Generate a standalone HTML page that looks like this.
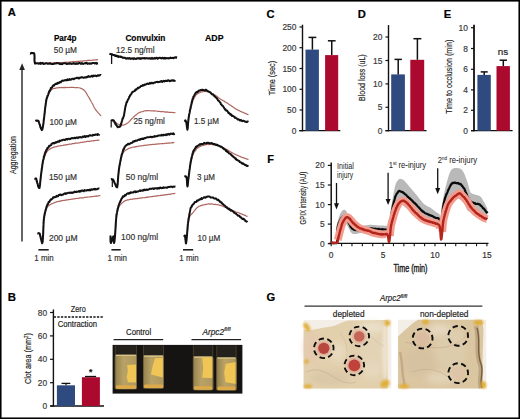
<!DOCTYPE html><html><head><meta charset="utf-8"><style>html,body{margin:0;padding:0;background:#fff;width:520px;height:419px;overflow:hidden;}svg{display:block;font-family:"Liberation Sans",sans-serif;}</style></head><body><svg width="520" height="419" viewBox="0 0 520 419" font-family="Liberation Sans, sans-serif"><defs><filter id="b05" x="-50%" y="-50%" width="200%" height="200%"><feGaussianBlur stdDeviation="0.6"/></filter><filter id="b1" x="-50%" y="-50%" width="200%" height="200%"><feGaussianBlur stdDeviation="1.2"/></filter><filter id="b2" x="-50%" y="-50%" width="200%" height="200%"><feGaussianBlur stdDeviation="3"/></filter><linearGradient id="liq" x1="0" x2="1" y1="0" y2="0"><stop offset="0" stop-color="#94804c"/><stop offset="0.4" stop-color="#b8a266"/><stop offset="1" stop-color="#ad975c"/></linearGradient></defs><rect width="520" height="419" fill="#fff"/><text x="7.70" y="16.40" font-size="11.20" text-anchor="start" font-weight="bold" fill="#000" stroke="#000" stroke-width="0.18" >A</text><text x="65.20" y="41.20" font-size="8.60" text-anchor="middle" font-weight="bold" fill="#000" stroke="#000" stroke-width="0.18" textLength="22.6" lengthAdjust="spacingAndGlyphs" >Par4p</text><text x="145.40" y="40.60" font-size="8.60" text-anchor="middle" font-weight="bold" fill="#000" stroke="#000" stroke-width="0.18" textLength="40.0" lengthAdjust="spacingAndGlyphs" >Convulxin</text><text x="214.30" y="40.60" font-size="8.60" text-anchor="middle" font-weight="bold" fill="#000" stroke="#000" stroke-width="0.18" textLength="18.5" lengthAdjust="spacingAndGlyphs" >ADP</text><text x="53.80" y="53.00" font-size="8.70" text-anchor="start" font-weight="normal" fill="#333" stroke="#333" stroke-width="0.18" textLength="23.2" lengthAdjust="spacingAndGlyphs" >50 µM</text><text x="116.00" y="53.00" font-size="8.70" text-anchor="start" font-weight="normal" fill="#333" stroke="#333" stroke-width="0.18" textLength="38.6" lengthAdjust="spacingAndGlyphs" >12.5 ng/ml</text><text x="49.40" y="125.00" font-size="8.70" text-anchor="start" font-weight="normal" fill="#333" stroke="#333" stroke-width="0.18" textLength="27.5" lengthAdjust="spacingAndGlyphs" >100 µM</text><text x="133.40" y="124.30" font-size="8.70" text-anchor="start" font-weight="normal" fill="#333" stroke="#333" stroke-width="0.18" textLength="31.5" lengthAdjust="spacingAndGlyphs" >25 ng/ml</text><text x="194.00" y="123.90" font-size="8.70" text-anchor="start" font-weight="normal" fill="#333" stroke="#333" stroke-width="0.18" textLength="24.9" lengthAdjust="spacingAndGlyphs" >1.5 µM</text><text x="48.90" y="180.30" font-size="8.70" text-anchor="start" font-weight="normal" fill="#333" stroke="#333" stroke-width="0.18" textLength="28.0" lengthAdjust="spacingAndGlyphs" >150 µM</text><text x="125.80" y="180.30" font-size="8.70" text-anchor="start" font-weight="normal" fill="#333" stroke="#333" stroke-width="0.18" textLength="32.4" lengthAdjust="spacingAndGlyphs" >50 ng/ml</text><text x="197.00" y="180.10" font-size="8.70" text-anchor="start" font-weight="normal" fill="#333" stroke="#333" stroke-width="0.18" textLength="18.0" lengthAdjust="spacingAndGlyphs" >3 µM</text><text x="48.90" y="240.80" font-size="8.70" text-anchor="start" font-weight="normal" fill="#333" stroke="#333" stroke-width="0.18" textLength="28.6" lengthAdjust="spacingAndGlyphs" >200 µM</text><text x="121.00" y="239.70" font-size="8.70" text-anchor="start" font-weight="normal" fill="#333" stroke="#333" stroke-width="0.18" textLength="37.2" lengthAdjust="spacingAndGlyphs" >100 ng/ml</text><text x="197.50" y="240.80" font-size="8.70" text-anchor="start" font-weight="normal" fill="#333" stroke="#333" stroke-width="0.18" textLength="22.9" lengthAdjust="spacingAndGlyphs" >10 µM</text><line x1="38.40" y1="249.80" x2="48.70" y2="249.80" stroke="#111" stroke-width="1.50" /><line x1="111.40" y1="249.80" x2="120.70" y2="249.80" stroke="#111" stroke-width="1.50" /><line x1="183.00" y1="249.80" x2="193.20" y2="249.80" stroke="#111" stroke-width="1.50" /><text x="34.30" y="260.90" font-size="8.50" text-anchor="start" font-weight="normal" fill="#333" stroke="#333" stroke-width="0.18" textLength="19.4" lengthAdjust="spacingAndGlyphs" >1 min</text><text x="107.60" y="260.90" font-size="8.50" text-anchor="start" font-weight="normal" fill="#333" stroke="#333" stroke-width="0.18" textLength="19.4" lengthAdjust="spacingAndGlyphs" >1 min</text><text x="179.30" y="260.90" font-size="8.50" text-anchor="start" font-weight="normal" fill="#333" stroke="#333" stroke-width="0.18" textLength="19.4" lengthAdjust="spacingAndGlyphs" >1 min</text><line x1="22.00" y1="241.60" x2="22.00" y2="68.00" stroke="#2a2a2a" stroke-width="1.45" /><path d="M22.1,63.2 L19.3,69.9 L24.9,69.9 Z" fill="#222"/><text x="15.60" y="155.00" font-size="9.60" text-anchor="middle" font-weight="normal" fill="#222" stroke="#222" stroke-width="0.15" textLength="38.0" lengthAdjust="spacingAndGlyphs" transform="rotate(-90 15.60 155.00)">Aggregation</text><path d="M30.00,53.80L30.45,53.72L31.10,53.61L31.86,53.71L32.62,53.51L33.30,53.68L33.80,53.76L34.27,54.07L34.40,54.85L34.50,55.86L34.54,56.45L34.54,56.92L34.53,57.58L34.51,58.38L34.49,59.24L34.48,59.78L34.50,60.53L34.54,61.33L34.64,62.03L34.79,62.43L35.00,62.77L35.34,63.30L35.70,63.21L36.11,63.52L36.59,63.33L37.19,63.21L37.94,63.10L38.87,63.08L40.00,63.19L40.42,63.00L40.86,63.12L41.34,63.14L41.84,63.05L42.36,63.10L42.91,62.95L43.47,62.94L44.06,62.98L44.66,63.11L45.28,63.03L45.91,62.98L46.55,63.05L47.20,63.00L47.86,62.94L48.52,63.07L49.19,63.03L49.85,62.88L50.52,62.96L51.18,62.93L51.84,63.01L52.49,62.95L53.14,62.80L53.77,62.99L54.39,62.71L55.00,62.78L55.60,62.85L56.20,62.65L56.80,62.73L57.40,62.57L58.00,62.73L58.60,62.73L59.20,62.65L59.80,62.71L60.40,62.51L61.00,62.59L61.60,62.53L62.20,62.50L62.80,62.43L63.40,62.51L64.00,62.51L64.60,62.33L65.20,62.35L65.80,62.14L66.40,62.29L67.00,62.24L67.60,62.30L68.20,62.21L68.80,62.01L69.40,62.01L70.00,62.05L70.60,61.82L71.21,61.91L71.81,61.78L72.42,61.72L73.03,61.65L73.64,61.82L74.26,61.58L74.87,61.57L75.48,61.56L76.10,61.66L76.71,61.37L77.32,61.43L77.93,61.41L78.54,61.46L79.14,61.39L79.75,61.36L80.35,61.13L80.95,61.12L81.54,61.05L82.13,61.16L82.71,61.13L83.29,60.84L83.87,60.80L84.44,60.77L85.00,60.72L85.68,60.74L86.37,60.71L87.08,60.55L87.79,60.41L88.51,60.46L89.24,60.38L89.96,60.38L90.68,60.42L91.39,60.28L92.09,60.16L92.78,60.13L93.44,60.08L94.09,59.84L94.70,60.03L95.29,59.94L95.85,59.92L96.36,59.84L96.84,59.68L97.28,59.64L97.66,59.51L98.00,59.60" fill="none" stroke="#b06660" stroke-width="1.2" stroke-linejoin="round"/><path d="M30.00,53.50L30.45,53.62L31.10,52.93L31.86,52.87L32.62,52.99L33.30,52.98L33.80,53.32L34.20,53.35L34.36,53.76L34.41,54.62L34.50,55.56L34.54,56.34L34.54,56.57L34.53,58.17L34.51,58.62L34.49,58.86L34.48,59.74L34.50,60.58L34.54,61.30L34.64,61.65L34.79,62.98L35.00,63.54L35.31,63.33L35.58,63.55L35.89,63.19L36.28,63.19L36.83,63.38L37.59,63.21L38.63,63.77L40.00,63.03L40.39,62.88L40.81,63.91L41.25,63.46L41.72,63.05L42.21,63.49L42.72,62.93L43.25,63.49L43.80,64.00L44.37,63.88L44.96,63.70L45.56,63.23L46.17,63.36L46.79,63.15L47.43,63.82L48.08,63.56L48.73,63.84L49.39,63.35L50.06,63.24L50.74,63.90L51.42,64.09L52.10,63.95L52.78,63.91L53.46,63.93L54.14,63.84L54.82,63.28L55.49,63.61L56.16,63.43L56.82,63.08L57.48,63.08L58.13,63.35L58.76,63.33L59.39,63.81L60.00,64.10L60.61,63.54L61.22,64.08L61.83,64.13L62.44,64.09L63.05,63.44L63.66,63.28L64.28,63.28L64.89,63.24L65.51,63.25L66.12,63.70L66.74,64.00L67.36,63.93L67.97,63.52L68.59,63.71L69.20,63.86L69.82,63.07L70.43,63.69L71.04,63.96L71.66,63.81L72.27,63.77L72.87,63.46L73.48,63.12L74.09,63.78L74.69,63.27L75.29,63.78L75.89,63.96L76.49,63.32L77.08,63.32L77.67,63.91L78.26,63.66L78.84,63.05L79.42,62.99L80.00,63.02L80.64,63.84L81.30,63.73L81.96,63.00L82.64,63.74L83.32,63.90L84.02,63.54L84.71,63.20L85.41,63.42L86.11,62.95L86.81,62.82L87.51,63.87L88.21,63.51L88.90,63.37L89.58,63.82L90.25,63.26L90.91,63.74L91.56,63.69L92.19,63.01L92.81,63.05L93.41,63.09L93.99,63.03L94.54,63.41L95.08,63.05L95.58,63.22L96.06,62.90L96.52,63.76L96.94,63.14L97.33,63.26L97.68,63.39L98.00,63.30" fill="none" stroke="#111" stroke-width="2.0" stroke-linejoin="round"/><path d="M35.50,121.30L36.07,121.38L36.90,121.17L37.75,121.31L38.40,121.30L38.76,121.57L38.88,122.02L39.20,122.86L39.37,123.44L39.58,123.96L39.81,124.60L40.06,125.60L40.32,126.21L40.59,127.08L40.86,127.89L41.12,128.48L41.37,128.93L41.60,129.35L41.80,129.52L42.01,129.59L42.18,129.26L42.34,129.15L42.48,128.65L42.61,128.10L42.75,127.51L42.91,126.50L43.09,125.38L43.30,124.08L43.36,123.73L43.42,123.16L43.49,122.74L43.56,122.22L43.63,121.69L43.70,121.20L43.77,120.55L43.85,119.98L43.93,119.35L44.00,118.85L44.08,118.13L44.16,117.52L44.25,116.86L44.33,115.97L44.41,115.37L44.49,114.78L44.58,114.05L44.66,113.13L44.74,112.42L44.83,111.82L44.91,111.01L45.00,110.37L45.08,109.63L45.16,109.14L45.24,108.52L45.33,107.91L45.41,107.06L45.49,106.62L45.56,106.01L45.64,105.29L45.72,104.98L45.79,104.49L45.86,103.78L45.93,103.55L46.00,102.97L46.19,101.91L46.37,101.14L46.55,100.31L46.72,99.44L46.88,98.94L47.04,98.47L47.20,97.98L47.36,97.54L47.52,97.19L47.67,96.93L47.84,96.31L48.00,96.02L48.25,95.29L48.49,94.51L48.73,93.99L48.97,93.51L49.21,92.93L49.46,92.30L49.73,92.10L50.00,91.59L50.46,90.99L50.94,90.16L51.44,89.71L51.96,89.22L52.50,89.08L53.04,88.66L53.59,88.44L54.17,88.40L54.80,88.44L55.50,88.30L56.02,88.03L56.52,87.89L57.03,88.03L57.61,87.83L58.27,87.79L59.06,87.53L60.00,87.47L60.48,87.64L61.00,87.54L61.56,87.42L62.16,87.66L62.79,87.56L63.44,87.60L64.10,87.38L64.78,87.60L65.47,87.36L66.15,87.60L66.84,87.47L67.51,87.44L68.17,87.50L68.81,87.62L69.42,87.42L70.00,87.39L70.69,87.52L71.38,87.44L72.06,87.41L72.74,87.44L73.40,87.42L74.06,87.48L74.69,87.54L75.31,87.56L75.90,87.72L76.47,87.61L77.01,87.71L77.52,87.66L78.00,87.75L78.91,87.77L79.67,87.95L80.31,88.02L80.89,88.41L81.44,88.56L82.00,88.71L82.56,89.08L83.07,89.54L83.56,89.64L84.04,90.27L84.51,90.62L85.00,91.20L85.33,91.72L85.65,92.03L85.96,92.54L86.28,93.10L86.60,93.73L86.93,94.10L87.27,94.84L87.62,95.42L88.00,96.04L88.28,96.44L88.56,96.91L88.86,97.34L89.17,97.89L89.48,98.42L89.80,99.18L90.12,99.60L90.45,100.14L90.77,100.68L91.08,101.47L91.40,102.03L91.70,102.52L92.00,102.93L92.31,103.49L92.60,104.06L92.89,104.67L93.16,105.13L93.44,105.77L93.71,106.27L93.99,107.02L94.28,107.57L94.58,107.99L94.90,108.44L95.24,109.20L95.60,109.54L95.97,110.07L96.39,110.51L96.83,111.19L97.31,111.79L97.79,112.37L98.28,112.84L98.77,113.49L99.23,113.87L99.68,114.44L100.09,114.84L100.45,115.34L100.76,115.58L101.00,116.00" fill="none" stroke="#b06660" stroke-width="1.2" stroke-linejoin="round"/><path d="M35.50,121.00L36.07,120.43L36.90,120.66L37.75,120.57L38.40,121.09L38.76,121.38L38.88,122.19L39.20,123.17L39.37,123.72L39.58,124.52L39.81,124.70L40.06,125.42L40.32,126.96L40.59,126.84L40.86,128.23L41.12,128.80L41.37,128.67L41.60,129.91L41.80,130.13L42.01,129.84L42.18,129.84L42.34,129.67L42.48,128.51L42.61,128.36L42.75,127.57L42.91,126.97L43.09,125.75L43.30,124.36L43.36,123.69L43.42,123.59L43.49,122.89L43.55,122.40L43.62,121.36L43.69,120.59L43.76,120.12L43.83,119.77L43.91,118.86L43.98,119.02L44.06,118.06L44.14,117.46L44.22,116.77L44.30,116.13L44.38,115.22L44.46,113.97L44.54,114.13L44.62,113.35L44.70,112.36L44.78,111.68L44.86,111.10L44.95,109.74L45.03,109.78L45.11,108.55L45.19,107.68L45.27,107.22L45.35,107.08L45.42,105.87L45.50,105.84L45.58,105.51L45.65,104.41L45.72,103.75L45.80,103.34L45.87,103.08L45.93,102.71L46.00,102.13L46.19,101.04L46.38,99.47L46.55,98.75L46.73,98.19L46.89,98.16L47.06,97.19L47.22,97.05L47.37,96.06L47.53,95.74L47.69,95.59L47.84,95.64L48.00,95.21L48.23,94.50L48.45,93.45L48.67,93.10L48.89,92.49L49.10,91.97L49.33,91.08L49.56,91.43L49.80,90.17L50.14,90.37L50.49,89.69L50.85,88.08L51.22,87.99L51.61,87.85L52.00,87.51L52.48,86.41L52.97,85.75L53.48,85.27L54.02,85.68L54.60,84.48L55.10,84.57L55.61,83.78L56.15,83.91L56.72,84.10L57.33,82.90L58.00,83.35L58.52,82.77L59.04,82.94L59.58,82.49L60.15,81.72L60.76,82.20L61.43,81.49L62.17,80.73L63.00,80.45L63.48,80.86L63.99,80.68L64.53,80.37L65.09,80.06L65.67,80.14L66.26,79.97L66.88,80.41L67.50,79.35L68.14,80.04L68.78,80.00L69.42,79.08L70.07,79.84L70.72,79.48L71.36,79.56L72.00,78.77L72.60,78.75L73.20,78.67L73.81,79.23L74.43,78.68L75.05,78.33L75.68,78.31L76.31,78.05L76.94,77.71L77.57,77.68L78.21,78.39L78.84,77.70L79.48,78.33L80.11,77.49L80.74,77.42L81.37,77.60L82.00,77.16L82.63,77.27L83.26,77.83L83.89,77.66L84.52,77.49L85.16,77.21L85.79,77.44L86.43,77.38L87.06,76.87L87.69,76.97L88.32,76.15L88.95,76.83L89.57,76.44L90.19,76.69L90.80,76.50L91.40,76.03L92.00,75.70L92.65,76.60L93.32,75.64L94.01,75.95L94.71,75.74L95.41,75.61L96.10,76.03L96.79,76.23L97.46,75.37L98.10,75.75L98.70,75.30L99.27,75.53L99.79,75.30L100.26,75.01L100.66,74.96L101.00,75.30" fill="none" stroke="#111" stroke-width="2.0" stroke-linejoin="round"/><path d="M34.50,178.60L35.20,178.59L36.00,179.12L36.26,179.37L36.43,179.83L36.80,181.12L36.95,181.61L37.13,182.06L37.32,182.70L37.54,183.53L37.76,184.34L37.99,185.25L38.23,185.95L38.46,186.69L38.69,187.26L38.91,187.74L39.11,188.00L39.30,187.87L39.40,187.59L39.50,187.32L39.60,187.01L39.69,186.54L39.77,186.05L39.86,185.42L39.94,184.89L40.02,184.45L40.10,183.52L40.18,182.92L40.26,182.22L40.34,181.53L40.41,180.57L40.49,179.81L40.57,179.03L40.65,178.31L40.74,177.58L40.82,177.00L40.91,176.27L41.00,175.61L41.08,174.76L41.17,174.15L41.25,173.73L41.34,173.16L41.42,172.39L41.51,171.77L41.60,170.94L41.68,170.39L41.77,169.89L41.86,169.20L41.95,168.56L42.04,167.94L42.13,167.08L42.22,166.40L42.32,165.79L42.41,165.29L42.51,164.74L42.60,164.24L42.70,163.61L42.80,163.05L42.90,162.57L43.00,161.99L43.18,161.23L43.36,160.34L43.54,159.87L43.73,159.05L43.93,158.65L44.12,157.98L44.32,157.32L44.52,156.75L44.71,156.28L44.91,155.91L45.11,155.46L45.31,154.83L45.50,154.37L45.85,153.74L46.20,153.07L46.55,152.41L46.89,151.81L47.25,151.43L47.62,150.79L48.00,150.44L48.46,150.02L48.93,149.77L49.41,149.34L49.91,149.10L50.44,148.69L51.00,148.32L51.48,148.08L51.95,148.07L52.43,147.78L52.95,147.46L53.54,147.17L54.21,147.11L55.00,146.95L55.46,146.76L55.92,146.60L56.39,146.61L56.87,146.58L57.38,146.26L57.91,146.09L58.48,146.07L59.09,145.98L59.74,145.93L60.46,145.66L61.23,145.70L62.08,145.53L63.00,145.30L63.46,145.13L63.93,145.28L64.42,145.00L64.94,145.07L65.46,144.80L66.00,144.71L66.56,144.78L67.13,144.54L67.71,144.65L68.31,144.41L68.91,144.22L69.53,144.13L70.15,144.09L70.79,144.06L71.43,144.05L72.07,143.70L72.73,143.67L73.38,143.52L74.04,143.64L74.71,143.29L75.37,143.16L76.04,143.06L76.70,143.06L77.37,143.11L78.03,143.01L78.69,142.86L79.35,142.84L80.00,142.73L80.58,142.46L81.18,142.34L81.80,142.47L82.44,142.33L83.10,142.02L83.77,142.12L84.45,141.94L85.14,141.84L85.83,141.74L86.54,141.59L87.24,141.45L87.95,141.44L88.66,141.36L89.37,141.45L90.07,141.11L90.76,141.27L91.45,140.95L92.13,140.91L92.79,140.96L93.44,140.88L94.07,140.68L94.69,140.48L95.28,140.53L95.86,140.43L96.41,140.52L96.93,140.23L97.42,140.22L97.89,140.32L98.32,140.00L98.72,140.06L99.08,140.14L99.40,140.00" fill="none" stroke="#b06660" stroke-width="1.2" stroke-linejoin="round"/><path d="M34.50,178.40L35.20,178.76L36.00,178.29L36.26,178.71L36.43,179.36L36.80,181.46L36.95,181.21L37.13,182.39L37.32,183.32L37.54,183.54L37.76,184.34L37.99,185.95L38.23,186.39L38.46,186.71L38.69,187.78L38.91,187.73L39.11,187.85L39.30,187.45L39.40,188.10L39.49,188.00L39.58,187.35L39.67,187.27L39.75,185.79L39.84,185.48L39.91,185.16L39.99,185.05L40.07,184.38L40.14,183.05L40.22,182.17L40.29,181.61L40.37,180.92L40.44,180.62L40.52,179.02L40.59,178.93L40.67,178.09L40.75,177.44L40.83,176.66L40.91,175.78L41.00,174.81L41.08,174.21L41.16,173.64L41.25,173.49L41.33,172.08L41.41,171.57L41.50,171.53L41.59,170.33L41.67,169.47L41.76,168.78L41.85,168.69L41.94,167.79L42.03,167.86L42.11,167.11L42.20,166.59L42.29,165.17L42.38,164.36L42.47,163.77L42.56,163.63L42.65,163.29L42.74,162.45L42.83,161.69L42.91,161.39L43.00,161.13L43.17,160.33L43.33,159.62L43.50,158.99L43.66,158.10L43.82,156.87L43.99,157.06L44.15,155.88L44.32,155.64L44.49,154.90L44.66,154.79L44.83,153.68L45.00,153.22L45.26,152.47L45.52,151.67L45.78,151.82L46.05,150.87L46.32,150.01L46.60,149.53L46.89,149.66L47.20,148.61L47.56,147.75L47.94,147.87L48.32,147.23L48.72,147.15L49.13,145.75L49.56,145.76L50.00,145.75L50.53,145.34L51.08,145.03L51.64,143.69L52.23,143.62L52.85,143.10L53.50,142.86L54.09,143.46L54.70,142.78L55.33,142.93L55.98,142.10L56.65,142.43L57.32,141.76L58.00,141.34L58.57,141.72L59.10,141.74L59.63,140.64L60.18,141.02L60.76,140.88L61.41,140.26L62.15,140.25L63.00,139.81L63.47,139.77L63.97,139.73L64.49,140.00L65.03,139.95L65.60,139.34L66.18,139.02L66.78,139.26L67.39,139.53L68.02,138.87L68.67,138.89L69.32,138.66L69.98,139.19L70.65,138.80L71.33,138.15L72.01,138.08L72.70,138.28L73.25,138.36L73.82,138.37L74.38,137.67L74.96,137.66L75.54,138.16L76.13,137.75L76.73,137.52L77.33,137.45L77.94,138.07L78.56,137.27L79.18,137.46L79.80,137.14L80.44,137.11L81.07,137.50L81.72,137.55L82.36,136.76L83.02,136.47L83.67,136.96L84.33,136.28L85.00,135.96L85.57,136.85L86.17,136.23L86.80,136.57L87.45,136.01L88.11,136.43L88.79,135.86L89.48,135.42L90.18,135.14L90.88,135.62L91.58,135.61L92.28,135.79L92.97,134.78L93.65,135.26L94.31,134.87L94.96,134.92L95.59,134.42L96.19,134.48L96.76,134.65L97.30,135.00L97.81,134.02L98.27,134.37L98.70,134.65L99.07,134.77L99.40,134.20" fill="none" stroke="#111" stroke-width="2.0" stroke-linejoin="round"/><path d="M37.40,233.60L38.00,233.44L38.83,233.35L39.50,233.73L39.79,234.04L39.92,234.39L40.20,235.37L40.32,236.10L40.47,236.55L40.63,237.42L40.81,238.13L41.00,239.02L41.19,239.65L41.38,240.64L41.57,241.20L41.75,241.88L41.92,242.50L42.07,242.80L42.20,242.70L42.31,242.63L42.40,242.48L42.48,242.20L42.56,241.75L42.63,241.16L42.69,240.60L42.75,240.08L42.80,239.40L42.86,238.36L42.91,237.69L42.97,236.88L43.03,235.77L43.10,235.10L43.13,234.41L43.16,234.05L43.19,233.51L43.22,232.97L43.25,232.30L43.27,231.73L43.30,231.16L43.32,230.48L43.35,229.90L43.37,229.18L43.40,228.51L43.42,227.71L43.45,227.20L43.48,226.48L43.51,225.73L43.54,225.21L43.57,224.54L43.61,223.77L43.64,223.03L43.68,222.48L43.73,221.74L43.77,221.13L43.82,220.63L43.88,219.95L43.94,219.51L44.00,219.00L44.11,218.09L44.22,217.51L44.35,216.60L44.48,216.06L44.62,215.36L44.76,214.59L44.92,213.78L45.07,213.26L45.23,212.59L45.39,212.15L45.55,211.32L45.72,210.98L45.88,210.49L46.04,209.90L46.20,209.45L46.35,208.82L46.50,208.64L46.89,207.56L47.26,207.06L47.62,206.62L48.01,206.08L48.46,205.97L49.00,205.63L49.46,205.03L49.96,204.78L50.49,204.58L51.06,204.08L51.65,203.99L52.27,203.50L52.92,203.38L53.60,202.89L54.09,202.81L54.57,202.75L55.05,202.36L55.53,202.20L56.03,202.11L56.56,201.89L57.13,201.64L57.75,201.52L58.43,201.35L59.17,201.41L60.00,201.15L60.47,201.12L60.97,200.81L61.49,200.89L62.03,200.59L62.60,200.61L63.18,200.54L63.78,200.35L64.40,200.40L65.02,200.20L65.66,200.10L66.30,200.09L66.95,199.75L67.61,199.91L68.26,199.70L68.92,199.53L69.57,199.55L70.21,199.29L70.85,199.42L71.48,199.20L72.10,199.05L72.70,199.08L73.32,198.89L73.93,198.73L74.54,198.82L75.14,198.53L75.73,198.69L76.32,198.44L76.91,198.49L77.50,198.52L78.09,198.33L78.68,198.29L79.28,198.11L79.88,197.95L80.48,197.89L81.09,197.86L81.72,197.92L82.35,197.80L82.99,197.74L83.65,197.78L84.32,197.47L85.00,197.42L85.57,197.48L86.17,197.21L86.80,197.13L87.45,197.15L88.13,197.00L88.82,196.99L89.52,196.86L90.23,196.88L90.95,196.79L91.68,196.59L92.40,196.63L93.11,196.49L93.82,196.30L94.52,196.46L95.20,196.17L95.86,196.06L96.50,195.96L97.12,196.05L97.70,196.04L98.26,195.95L98.77,195.77L99.25,195.67L99.68,195.54L100.07,195.68L100.40,195.60" fill="none" stroke="#b06660" stroke-width="1.2" stroke-linejoin="round"/><path d="M37.40,233.40L38.00,233.39L38.83,233.08L39.50,233.56L39.79,233.68L39.92,234.80L40.20,235.76L40.32,235.71L40.47,237.06L40.63,236.86L40.81,238.21L41.00,238.92L41.19,239.59L41.38,240.21L41.57,241.75L41.75,241.55L41.92,242.64L42.07,243.39L42.20,242.61L42.31,242.59L42.40,242.83L42.48,242.40L42.56,242.13L42.63,241.81L42.69,240.50L42.75,239.97L42.80,239.22L42.86,238.14L42.91,238.21L42.97,237.19L43.03,236.19L43.10,234.46L43.13,234.92L43.16,234.32L43.19,233.50L43.21,233.27L43.23,232.39L43.25,231.56L43.28,230.84L43.30,230.36L43.32,229.53L43.34,229.22L43.36,229.02L43.38,228.31L43.40,227.81L43.42,227.00L43.44,225.84L43.47,225.48L43.49,224.68L43.52,224.40L43.56,223.45L43.59,222.51L43.63,222.28L43.67,222.00L43.71,220.55L43.76,220.67L43.81,219.13L43.87,218.82L43.93,218.24L44.00,218.27L44.10,217.76L44.21,216.83L44.32,215.67L44.44,215.58L44.56,214.30L44.69,213.53L44.83,213.61L44.97,212.66L45.11,212.09L45.26,211.44L45.42,211.18L45.58,210.03L45.74,209.85L45.91,209.13L46.08,208.75L46.26,207.75L46.44,207.54L46.62,206.86L46.81,206.07L47.00,205.48L47.31,205.22L47.63,203.95L47.98,204.23L48.33,202.78L48.70,202.08L49.08,201.62L49.46,202.01L49.84,200.89L50.23,200.20L50.61,199.65L50.98,199.25L51.35,199.58L51.70,199.15L52.24,198.70L52.74,198.33L53.22,197.26L53.71,197.56L54.21,197.08L54.74,197.35L55.34,197.12L56.00,196.93L56.48,195.83L56.99,196.52L57.51,196.38L58.06,196.22L58.62,195.11L59.21,195.03L59.80,194.75L60.42,194.48L61.05,195.20L61.69,194.98L62.34,194.62L63.00,194.66L63.54,194.31L64.09,193.80L64.66,193.47L65.23,193.34L65.81,193.94L66.41,193.21L67.01,193.22L67.62,193.21L68.23,192.65L68.85,192.80L69.48,192.71L70.10,193.07L70.73,192.58L71.37,192.41L72.00,193.01L72.60,192.40L73.20,192.68L73.81,192.33L74.43,191.59L75.05,191.91L75.68,191.84L76.31,192.12L76.94,191.56L77.57,191.86L78.21,191.58L78.84,191.14L79.48,191.76L80.11,190.82L80.74,191.53L81.37,190.73L82.00,190.45L82.63,190.58L83.27,191.11L83.91,191.25L84.56,190.09L85.21,190.53L85.86,190.44L86.51,190.69L87.16,189.92L87.80,190.17L88.44,189.92L89.07,190.37L89.68,189.66L90.29,190.32L90.87,189.52L91.45,189.36L92.00,189.82L92.73,189.50L93.47,188.97L94.21,189.45L94.93,188.74L95.64,189.42L96.33,189.23L96.97,189.24L97.58,188.99L98.13,188.61L98.62,188.60L99.05,188.53L99.40,188.60" fill="none" stroke="#111" stroke-width="2.0" stroke-linejoin="round"/><path d="M109.50,54.00L109.94,54.17L110.56,54.00L111.28,54.35L112.00,54.26L112.54,54.50L113.07,54.74L113.63,55.19L114.26,55.33L115.00,55.56L115.51,55.88L116.05,55.86L116.61,56.11L117.21,56.31L117.84,56.56L118.51,56.74L119.23,56.88L120.00,56.95L120.53,57.06L121.07,57.12L121.63,57.45L122.20,57.51L122.78,57.65L123.39,57.59L124.03,57.78L124.69,57.98L125.39,58.01L126.12,57.96L126.89,58.13L127.70,58.32L128.20,58.15L128.71,58.16L129.22,58.21L129.74,58.34L130.27,58.39L130.81,58.19L131.36,58.19L131.92,58.22L132.49,58.24L133.08,58.29L133.68,58.18L134.30,58.22L134.94,58.17L135.60,58.40L136.28,58.31L136.97,58.11L137.69,58.36L138.44,58.09L139.21,58.17L140.00,58.35L140.50,58.29L141.01,58.26L141.54,58.17L142.08,58.10L142.64,58.23L143.21,58.06L143.79,58.09L144.38,58.14L144.98,58.03L145.59,58.14L146.21,58.25L146.83,58.22L147.46,58.15L148.10,58.19L148.74,58.13L149.38,58.03L150.03,58.17L150.68,58.10L151.33,58.20L151.98,58.24L152.62,58.09L153.27,58.13L153.91,58.17L154.55,58.07L155.19,58.00L155.82,58.14L156.44,58.18L157.06,58.14L157.67,58.10L158.27,58.14L158.85,58.08L159.43,58.05L160.00,57.99L160.67,57.93L161.35,58.01L162.04,57.83L162.73,57.91L163.44,57.99L164.15,57.95L164.86,57.90L165.57,57.77L166.28,57.79L166.99,57.78L167.69,57.80L168.39,57.71L169.07,57.77L169.75,57.82L170.41,57.57L171.06,57.68L171.69,57.69L172.31,57.55L172.90,57.56L173.47,57.68L174.02,57.38L174.54,57.51L175.03,57.37L175.49,57.54L175.92,57.57L176.32,57.43L176.68,57.29L177.00,57.40" fill="none" stroke="#b06660" stroke-width="1.2" stroke-linejoin="round"/><path d="M109.50,53.80L109.94,53.94L110.56,53.97L111.28,54.27L112.00,54.21L112.54,54.54L113.07,54.97L113.63,54.88L114.26,55.03L115.00,55.89L115.51,55.25L116.05,55.96L116.61,55.82L117.21,56.42L117.84,55.91L118.51,57.05L119.23,56.55L120.00,56.41L120.49,56.77L120.99,57.03L121.50,56.74L122.02,57.32L122.56,57.45L123.11,57.89L123.68,57.64L124.28,57.67L124.90,57.74L125.55,58.42L126.24,58.73L126.95,58.36L127.70,58.09L128.20,58.77L128.71,58.35L129.22,58.18L129.74,58.11L130.27,58.84L130.81,58.89L131.36,58.70L131.92,58.53L132.49,58.63L133.08,58.26L133.68,59.07L134.30,58.39L134.94,58.70L135.60,58.89L136.28,58.88L136.97,58.49L137.69,58.29L138.44,58.57L139.21,58.09L140.00,58.87L140.50,58.34L141.01,58.88L141.54,58.23L142.08,58.35L142.64,58.21L143.21,58.39L143.79,58.12L144.38,57.91L144.98,58.70L145.59,58.20L146.21,58.16L146.83,58.21L147.46,58.40L148.10,58.33L148.74,58.55L149.38,58.57L150.03,58.23L150.68,58.84L151.33,58.75L151.98,57.86L152.62,58.70L153.27,58.78L153.91,58.63L154.55,57.91L155.19,58.66L155.82,58.43L156.44,57.74L157.06,57.72L157.67,58.75L158.27,58.41L158.85,57.95L159.43,57.77L160.00,57.81L160.67,57.89L161.35,58.47L162.04,57.98L162.73,57.75L163.44,58.56L164.15,58.42L164.86,57.71L165.57,58.49L166.28,58.16L166.99,58.33L167.69,58.18L168.39,58.41L169.07,58.27L169.75,58.30L170.41,57.58L171.06,58.10L171.69,57.90L172.31,58.12L172.90,57.76L173.47,58.23L174.02,57.86L174.54,57.52L175.03,57.47L175.49,57.35L175.92,57.73L176.32,57.24L176.68,57.67L177.00,57.70" fill="none" stroke="#111" stroke-width="2.0" stroke-linejoin="round"/><path d="M111.20,121.20L111.65,120.86L112.30,120.66L113.00,120.60L113.53,120.85L114.09,121.36L114.69,121.59L115.30,122.30L115.79,122.55L116.29,122.96L116.81,123.38L117.37,123.79L118.00,123.96L118.60,124.21L119.27,124.59L119.98,124.52L120.69,124.85L121.38,124.97L122.00,124.86L122.65,125.06L123.24,125.05L123.80,125.03L124.38,124.69L125.00,124.64L125.48,124.28L125.99,124.01L126.51,123.83L127.04,123.24L127.57,123.08L128.09,122.66L128.60,122.15L129.03,121.91L129.44,121.34L129.85,120.92L130.26,120.46L130.67,120.04L131.09,119.39L131.53,118.96L132.00,118.48L132.44,118.08L132.91,117.71L133.39,117.09L133.88,116.79L134.38,116.21L134.88,115.79L135.37,115.29L135.84,114.97L136.30,114.74L136.84,114.23L137.34,113.89L137.82,113.41L138.30,113.09L138.81,112.79L139.37,112.60L140.00,112.34L140.56,112.18L141.18,111.75L141.84,111.76L142.52,111.62L143.22,111.34L143.91,111.03L144.58,110.96L145.21,110.75L145.80,110.71L146.46,110.83L147.03,110.68L147.55,110.68L148.07,110.71L148.62,110.77L149.25,110.70L150.00,110.74L150.50,110.76L151.02,110.80L151.57,110.80L152.15,110.87L152.75,110.76L153.37,110.94L154.00,110.93L154.65,111.07L155.30,110.92L155.97,111.00L156.63,111.01L157.30,111.28L157.88,111.37L158.46,111.35L159.06,111.31L159.66,111.51L160.28,111.55L160.89,111.55L161.52,111.51L162.15,111.59L162.78,111.69L163.42,111.72L164.06,111.81L164.71,111.93L165.35,112.08L166.00,111.87L166.63,112.07L167.29,111.97L167.99,112.04L168.70,112.31L169.43,112.29L170.16,112.45L170.89,112.36L171.60,112.28L172.28,112.44L172.94,112.55L173.55,112.70L174.11,112.75L174.61,112.64L175.04,112.65L175.40,112.70" fill="none" stroke="#b06660" stroke-width="1.2" stroke-linejoin="round"/><path d="M111.20,121.00L111.66,120.25L112.32,120.47L113.00,119.98L113.37,120.22L113.75,120.54L114.13,121.12L114.55,122.52L115.00,122.58L115.31,123.98L115.65,123.57L116.00,125.03L116.37,124.82L116.74,125.28L117.10,126.56L117.46,126.45L117.80,127.26L118.46,126.87L119.11,126.63L119.72,127.02L120.30,126.23L120.52,125.99L120.72,125.35L120.92,124.06L121.11,124.02L121.30,123.44L121.48,122.48L121.66,122.32L121.84,120.91L122.02,121.07L122.20,120.24L122.45,118.80L122.69,118.27L122.93,118.49L123.17,118.18L123.41,116.80L123.65,116.33L123.90,115.85L124.01,114.76L124.11,115.01L124.21,114.03L124.31,112.96L124.42,112.67L124.52,112.24L124.62,111.41L124.73,110.98L124.83,109.70L124.94,109.72L125.05,108.55L125.17,108.17L125.29,107.49L125.41,106.62L125.53,105.98L125.66,105.84L125.80,105.49L126.02,104.55L126.26,103.60L126.51,102.62L126.77,101.73L127.03,102.13L127.30,101.25L127.57,100.83L127.84,99.75L128.10,99.53L128.36,99.43L128.60,98.76L128.91,97.85L129.20,96.91L129.49,96.46L129.76,96.41L130.04,95.33L130.34,95.17L130.65,94.59L131.00,94.44L131.43,93.81L131.89,92.75L132.38,91.98L132.88,91.82L133.38,91.56L133.90,91.32L134.40,91.15L134.88,90.81L135.35,89.47L135.81,89.95L136.29,89.54L136.80,89.21L137.36,88.49L138.00,87.75L138.45,88.12L138.93,87.79L139.44,87.36L139.97,87.32L140.52,86.41L141.08,85.83L141.64,86.06L142.21,86.06L142.78,85.14L143.35,85.50L143.90,85.47L144.50,84.48L145.09,84.68L145.68,84.57L146.27,84.16L146.86,83.71L147.46,83.60L148.08,84.00L148.70,83.90L149.34,83.40L150.00,82.85L150.56,83.52L151.13,83.38L151.71,82.69L152.29,82.98L152.89,83.24L153.49,83.14L154.10,82.66L154.72,82.53L155.35,82.57L155.99,82.04L156.64,81.95L157.30,81.85L157.88,82.34L158.46,81.88L159.06,82.01L159.66,81.74L160.28,81.78L160.89,81.28L161.52,81.07L162.15,82.03L162.78,81.26L163.42,80.88L164.06,81.37L164.71,81.46L165.35,80.69L166.00,81.11L166.63,80.77L167.29,80.90L167.99,80.29L168.70,80.25L169.43,81.24L170.16,81.05L170.89,80.58L171.60,80.63L172.28,80.24L172.94,80.77L173.55,80.34L174.11,80.88L174.61,80.65L175.04,80.68L175.40,80.30" fill="none" stroke="#111" stroke-width="2.0" stroke-linejoin="round"/><path d="M111.00,179.60L111.57,179.75L112.36,179.58L113.00,179.66L113.23,179.96L113.60,180.90L113.80,181.26L114.06,181.76L114.35,182.50L114.67,183.24L115.01,183.80L115.36,184.62L115.70,185.25L116.03,185.58L116.33,186.24L116.59,186.55L116.80,186.69L117.15,187.10L117.31,186.56L117.41,185.71L117.60,184.04L117.65,183.75L117.70,183.24L117.74,182.69L117.79,182.20L117.84,181.58L117.89,181.26L117.95,180.68L118.00,179.84L118.05,179.15L118.11,178.56L118.16,177.93L118.22,177.42L118.28,176.74L118.34,176.03L118.41,175.10L118.47,174.63L118.54,173.93L118.61,173.23L118.68,172.66L118.76,171.73L118.84,171.11L118.92,170.68L119.00,170.13L119.09,169.43L119.19,168.69L119.29,168.14L119.39,167.55L119.50,166.71L119.61,166.12L119.72,165.45L119.83,164.76L119.95,164.22L120.07,163.49L120.19,162.88L120.31,162.23L120.43,161.77L120.55,160.97L120.67,160.60L120.80,159.87L120.92,159.27L121.04,159.01L121.16,158.29L121.27,158.02L121.39,157.54L121.50,157.12L121.77,155.95L122.03,155.23L122.28,154.43L122.54,154.07L122.79,153.52L123.05,152.99L123.32,152.51L123.60,152.06L123.90,151.80L124.37,151.14L124.87,150.75L125.38,150.26L125.91,149.99L126.45,149.66L127.00,149.56L127.51,149.21L127.99,148.82L128.47,148.77L129.02,148.34L129.68,148.13L130.50,147.80L130.98,147.70L131.49,147.73L132.04,147.44L132.62,147.26L133.23,147.22L133.86,147.03L134.52,147.07L135.19,146.70L135.88,146.82L136.58,146.42L137.29,146.54L138.00,146.35L138.54,146.12L139.09,146.12L139.65,145.97L140.21,145.88L140.78,145.78L141.36,145.75L141.95,145.85L142.55,145.77L143.16,145.67L143.78,145.35L144.40,145.33L145.04,145.43L145.69,145.10L146.35,145.22L147.02,145.02L147.70,145.14L148.25,144.79L148.82,144.97L149.38,144.77L149.96,144.65L150.54,144.54L151.13,144.73L151.73,144.58L152.33,144.42L152.94,144.43L153.56,144.52L154.18,144.25L154.80,144.30L155.44,144.11L156.07,144.06L156.72,144.18L157.36,144.10L158.02,143.89L158.67,143.79L159.33,143.74L160.00,143.83L160.57,143.75L161.17,143.63L161.80,143.55L162.45,143.62L163.11,143.59L163.79,143.57L164.48,143.44L165.18,143.27L165.88,143.17L166.58,143.31L167.28,143.15L167.97,143.19L168.65,142.94L169.31,143.11L169.96,142.91L170.59,143.01L171.19,142.97L171.76,142.81L172.30,142.63L172.81,142.85L173.27,142.69L173.70,142.77L174.07,142.56L174.40,142.60" fill="none" stroke="#b06660" stroke-width="1.2" stroke-linejoin="round"/><path d="M111.00,179.40L111.57,179.06L112.36,179.80L113.00,179.45L113.23,179.57L113.60,180.86L113.80,181.51L114.06,181.39L114.35,182.57L114.67,183.16L115.01,183.94L115.36,184.20L115.70,185.52L116.03,186.24L116.33,186.80L116.59,186.58L116.80,187.23L117.10,187.04L117.26,187.30L117.35,186.01L117.44,185.92L117.60,184.50L117.64,183.62L117.69,183.22L117.73,182.79L117.77,182.32L117.82,181.25L117.86,181.75L117.90,180.38L117.95,179.75L117.99,179.06L118.04,178.61L118.09,178.60L118.14,177.09L118.19,176.50L118.24,176.50L118.30,175.27L118.35,174.40L118.41,174.36L118.47,173.65L118.54,172.92L118.61,172.44L118.68,171.11L118.75,171.30L118.83,170.49L118.91,169.12L119.00,168.59L119.09,168.40L119.18,167.81L119.28,166.95L119.38,166.15L119.48,165.83L119.59,164.89L119.70,164.75L119.81,164.40L119.93,162.97L120.05,162.79L120.17,162.33L120.29,161.05L120.41,161.13L120.54,160.62L120.66,159.39L120.79,158.81L120.91,158.67L121.04,157.73L121.16,157.01L121.29,157.05L121.41,156.32L121.53,155.31L121.65,154.70L121.77,154.32L121.89,153.97L122.00,154.13L122.26,152.99L122.53,152.26L122.79,151.39L123.06,150.74L123.32,149.25L123.58,149.21L123.83,149.19L124.09,148.71L124.33,147.53L124.57,147.31L124.80,147.15L125.36,146.03L125.86,145.75L126.37,144.92L127.00,144.93L127.46,144.68L127.91,143.85L128.41,143.67L128.97,144.26L129.66,143.70L130.50,143.48L130.95,142.94L131.44,142.91L131.97,142.76L132.52,142.52L133.11,141.33L133.71,141.74L134.33,141.07L134.97,141.27L135.61,140.57L136.26,140.62L136.91,140.80L137.56,140.24L138.20,139.63L138.75,139.75L139.31,139.49L139.87,139.91L140.43,139.03L141.00,138.90L141.57,139.14L142.15,138.42L142.73,138.81L143.32,139.07L143.91,138.46L144.52,138.06L145.13,138.15L145.74,138.09L146.37,137.54L147.00,137.39L147.57,137.28L148.15,137.34L148.75,137.36L149.35,137.11L149.97,136.95L150.59,136.67L151.21,137.06L151.84,137.28L152.47,136.92L153.10,136.77L153.72,136.75L154.34,136.15L154.95,136.61L155.56,136.24L156.15,136.24L156.73,136.22L157.30,135.97L157.97,135.68L158.63,135.50L159.28,135.38L159.91,135.60L160.54,135.36L161.16,135.49L161.77,134.77L162.38,135.05L162.98,135.53L163.58,134.75L164.18,135.02L164.79,134.86L165.39,134.55L166.00,135.24L166.63,134.39L167.29,134.82L167.97,134.06L168.67,133.86L169.37,134.66L170.06,134.09L170.74,133.59L171.40,133.86L172.03,133.84L172.62,134.09L173.16,133.33L173.64,133.40L174.06,134.15L174.40,133.60" fill="none" stroke="#111" stroke-width="2.0" stroke-linejoin="round"/><path d="M110.50,235.70L110.51,236.17L110.51,236.55L110.50,237.28L110.50,238.05L110.49,238.97L110.49,239.78L110.50,240.66L110.53,241.40L110.56,241.97L110.62,242.56L110.70,242.92L110.80,243.08L110.95,242.88L111.15,242.60L111.37,241.98L111.62,241.30L111.89,240.23L112.16,239.59L112.43,238.49L112.69,237.96L112.93,237.29L113.13,236.85L113.30,236.84L113.44,236.90L113.55,237.33L113.63,238.14L113.70,239.02L113.74,239.86L113.78,240.72L113.82,241.60L113.87,242.31L113.93,242.88L114.00,242.94L114.09,242.91L114.18,242.78L114.27,242.42L114.37,241.96L114.47,241.54L114.57,240.89L114.68,240.00L114.78,239.08L114.89,238.01L115.00,236.94L115.04,236.46L115.08,236.13L115.12,235.63L115.16,234.95L115.20,234.64L115.24,233.88L115.28,233.43L115.33,232.80L115.37,232.19L115.41,231.30L115.45,230.70L115.50,230.16L115.54,229.20L115.58,228.52L115.62,227.98L115.67,227.27L115.71,226.70L115.76,225.98L115.80,225.23L115.84,224.71L115.89,223.92L115.93,223.28L115.98,222.72L116.02,222.05L116.07,221.47L116.11,221.01L116.16,220.43L116.20,220.13L116.29,219.18L116.38,218.31L116.47,217.43L116.56,216.81L116.65,216.16L116.74,215.59L116.83,215.01L116.92,214.55L117.02,214.05L117.11,213.41L117.21,212.91L117.30,212.48L117.40,212.12L117.50,211.45L117.67,210.72L117.84,210.10L118.00,209.26L118.17,208.71L118.36,208.36L118.55,207.80L118.76,207.20L119.00,206.58L119.35,206.18L119.73,205.55L120.14,205.05L120.57,204.60L121.03,204.09L121.50,203.48L121.98,202.93L122.47,202.51L122.98,202.15L123.53,201.73L124.13,201.26L124.80,200.90L125.23,200.83L125.59,200.65L125.93,200.41L126.29,200.46L126.73,200.21L127.27,199.88L127.97,199.84L128.86,199.78L130.00,199.44L130.41,199.49L130.86,199.22L131.34,199.23L131.85,199.32L132.38,199.17L132.94,199.12L133.52,198.90L134.13,198.91L134.75,198.84L135.39,198.67L136.04,198.70L136.71,198.58L137.38,198.64L138.06,198.43L138.75,198.29L139.44,198.12L140.13,198.05L140.82,198.14L141.51,197.86L142.19,197.78L142.86,197.71L143.53,197.74L144.18,197.75L144.81,197.60L145.43,197.59L146.03,197.29L146.61,197.20L147.17,197.35L147.70,197.15L148.43,197.17L149.13,196.96L149.81,196.82L150.46,196.76L151.08,196.62L151.69,196.78L152.28,196.60L152.86,196.45L153.43,196.40L153.99,196.30L154.55,196.13L155.12,196.30L155.68,196.13L156.25,196.16L156.83,195.92L157.43,195.89L158.04,195.70L158.67,195.55L159.32,195.72L160.00,195.61L160.57,195.37L161.17,195.46L161.80,195.35L162.45,195.11L163.13,195.10L163.82,195.12L164.52,194.88L165.23,194.92L165.95,194.61L166.68,194.55L167.40,194.56L168.11,194.31L168.82,194.24L169.52,194.31L170.20,194.10L170.86,194.11L171.50,193.85L172.12,193.75L172.70,193.72L173.26,193.60L173.77,193.76L174.25,193.49L174.68,193.52L175.07,193.33L175.40,193.40" fill="none" stroke="#b06660" stroke-width="1.2" stroke-linejoin="round"/><path d="M110.50,235.50L110.51,235.94L110.51,236.35L110.50,237.07L110.50,237.48L110.49,238.39L110.49,240.01L110.50,240.32L110.53,240.98L110.56,241.59L110.62,242.24L110.70,242.55L110.80,242.49L110.95,243.07L111.15,242.32L111.37,241.51L111.62,241.35L111.89,239.81L112.16,239.11L112.43,238.86L112.69,237.30L112.93,237.02L113.13,237.03L113.30,236.84L113.44,236.31L113.55,237.02L113.63,238.16L113.70,238.68L113.74,240.29L113.78,240.43L113.82,242.13L113.87,242.36L113.93,242.54L114.00,242.95L114.08,242.51L114.16,242.92L114.25,242.10L114.33,242.35L114.42,241.45L114.52,240.54L114.61,239.64L114.70,239.19L114.80,237.81L114.90,237.51L115.00,235.59L115.04,235.58L115.07,235.15L115.11,234.35L115.15,234.37L115.19,233.39L115.23,233.12L115.26,232.42L115.30,231.52L115.34,230.97L115.38,229.99L115.42,229.43L115.46,229.50L115.50,228.24L115.54,227.93L115.58,226.63L115.62,226.44L115.66,225.54L115.70,225.01L115.74,224.11L115.79,223.19L115.83,222.80L115.87,222.07L115.91,221.33L115.95,221.37L115.99,220.31L116.03,219.88L116.08,219.89L116.12,219.23L116.16,218.87L116.20,218.40L116.30,216.64L116.39,215.94L116.49,214.90L116.59,214.91L116.68,214.25L116.78,213.31L116.88,212.84L116.98,212.59L117.08,212.15L117.18,211.17L117.29,211.36L117.39,210.33L117.50,210.14L117.65,208.96L117.79,208.26L117.93,208.57L118.07,207.84L118.22,207.30L118.38,206.04L118.56,205.50L118.77,205.06L119.00,204.47L119.20,204.06L119.41,203.58L119.64,202.60L119.89,202.28L120.14,202.01L120.41,200.88L120.67,200.98L120.94,200.08L121.21,199.67L121.48,198.63L121.75,198.35L122.00,198.20L122.49,197.16L122.98,196.28L123.46,196.82L123.96,196.45L124.47,195.61L125.00,195.00L125.53,195.51L126.05,194.87L126.59,193.90L127.17,193.77L127.83,193.29L128.60,193.72L129.10,192.90L129.60,193.52L130.12,193.18L130.66,192.30L131.23,192.83L131.85,192.35L132.53,192.59L133.27,192.52L134.09,191.75L135.00,191.35L135.47,192.20L135.97,191.52L136.49,191.97L137.03,191.60L137.60,191.55L138.18,191.53L138.78,191.20L139.40,190.89L140.02,190.33L140.66,190.92L141.30,190.51L141.95,190.48L142.61,190.82L143.26,189.82L143.92,190.41L144.57,189.51L145.21,190.12L145.85,190.13L146.48,189.43L147.10,189.64L147.70,190.02L148.32,189.56L148.93,189.37L149.54,188.95L150.14,188.66L150.73,188.91L151.32,188.89L151.91,188.58L152.50,188.62L153.09,188.36L153.68,188.92L154.28,188.80L154.88,188.26L155.48,188.19L156.09,188.43L156.72,188.28L157.35,188.75L157.99,188.04L158.65,187.92L159.32,188.49L160.00,187.61L160.57,188.01L161.17,187.70L161.80,188.17L162.45,187.82L163.13,187.99L163.82,187.28L164.52,187.77L165.23,187.63L165.95,187.42L166.68,187.70L167.40,187.71L168.11,186.86L168.82,187.00L169.52,187.02L170.20,186.79L170.86,186.58L171.50,186.77L172.12,186.63L172.70,187.14L173.26,186.82L173.77,186.41L174.25,186.60L174.68,186.72L175.07,186.58L175.40,186.70" fill="none" stroke="#111" stroke-width="2.0" stroke-linejoin="round"/><path d="M184.20,120.80L184.68,120.53L185.36,120.38L186.00,121.05L186.12,121.75L186.24,122.22L186.36,122.67L186.48,123.60L186.59,124.48L186.71,125.17L186.82,125.85L186.92,126.74L187.03,127.43L187.13,127.97L187.22,128.55L187.31,128.72L187.40,129.13L187.49,128.96L187.58,128.67L187.65,128.30L187.72,127.61L187.79,126.77L187.85,125.97L187.91,125.10L187.98,124.20L188.04,123.59L188.12,122.81L188.20,121.94L188.27,121.31L188.34,120.88L188.40,120.38L188.47,119.85L188.53,119.06L188.60,118.68L188.68,118.10L188.77,117.46L188.87,116.69L188.99,115.95L189.13,115.40L189.30,114.45L189.41,113.96L189.53,113.48L189.66,112.86L189.80,112.40L189.95,111.60L190.11,110.89L190.27,110.39L190.44,109.74L190.61,109.12L190.79,108.40L190.96,107.78L191.14,107.12L191.31,106.33L191.48,105.69L191.65,104.96L191.81,104.40L191.97,103.92L192.11,103.23L192.25,102.92L192.38,102.31L192.50,101.98L192.84,101.04L193.11,100.04L193.32,99.55L193.53,99.32L193.74,98.89L194.00,98.57L194.29,97.75L194.59,97.38L194.91,96.76L195.24,96.14L195.60,95.47L196.00,94.93L196.44,94.62L196.93,94.20L197.44,93.83L197.96,93.50L198.49,93.25L199.00,93.05L199.57,92.79L200.10,92.54L200.66,92.08L201.27,91.91L202.00,91.78L202.53,91.72L203.11,91.56L203.73,91.43L204.38,91.33L205.04,91.35L205.70,91.38L206.36,91.56L207.00,91.62L207.63,91.75L208.27,91.97L208.92,92.21L209.56,92.37L210.20,92.72L210.82,92.79L211.42,93.27L212.00,93.53L212.62,93.75L213.22,94.14L213.78,94.56L214.34,94.74L214.89,95.13L215.44,95.37L216.00,95.75L216.50,96.26L216.99,96.37L217.47,96.79L217.96,97.33L218.46,97.65L218.96,97.93L219.47,98.48L220.00,98.76L220.54,99.17L221.09,99.45L221.65,99.81L222.21,100.14L222.79,100.41L223.38,100.66L223.98,101.03L224.60,101.62L225.10,101.83L225.62,102.02L226.14,102.58L226.67,102.74L227.21,103.05L227.76,103.53L228.31,103.81L228.87,104.25L229.43,104.64L230.00,104.92L230.48,105.34L230.97,105.53L231.46,105.99L231.96,106.36L232.46,106.56L232.96,107.00L233.47,107.25L233.98,107.70L234.49,108.17L234.99,108.40L235.50,108.76L236.00,109.08L236.54,109.20L237.08,109.76L237.62,109.96L238.16,110.05L238.70,110.54L239.24,110.67L239.78,110.87L240.33,111.36L240.88,111.50L241.44,111.82L242.00,111.89L242.60,112.36L243.24,112.43L243.91,112.77L244.60,113.11L245.29,113.30L245.96,113.76L246.59,113.91L247.18,114.18L247.71,114.53L248.15,114.63L248.50,114.80" fill="none" stroke="#b06660" stroke-width="1.2" stroke-linejoin="round"/><path d="M184.20,120.60L184.68,120.84L185.36,120.41L186.00,121.41L186.12,121.49L186.24,122.45L186.36,123.08L186.48,123.09L186.59,124.56L186.71,124.97L186.82,126.29L186.92,127.01L187.03,127.92L187.13,127.78L187.22,128.57L187.31,129.31L187.40,129.69L187.49,129.39L187.56,128.40L187.64,128.62L187.70,127.53L187.76,127.39L187.82,126.95L187.88,125.42L187.93,125.50L187.99,124.42L188.06,123.16L188.12,122.34L188.20,121.94L188.27,121.79L188.33,120.95L188.40,119.88L188.46,119.22L188.52,118.76L188.58,118.96L188.65,117.70L188.73,117.50L188.82,116.58L188.92,116.36L189.03,115.32L189.16,114.31L189.30,114.31L189.40,113.43L189.50,113.06L189.61,112.61L189.73,112.16L189.86,110.50L189.99,110.21L190.13,109.34L190.27,109.05L190.41,108.77L190.56,108.00L190.71,106.46L190.85,105.94L191.00,105.96L191.15,105.14L191.30,104.17L191.44,103.63L191.58,102.67L191.72,102.85L191.85,101.80L191.97,101.81L192.09,101.05L192.20,100.03L192.48,99.31L192.72,98.40L192.95,98.53L193.16,97.70L193.36,96.69L193.56,96.45L193.77,96.28L194.00,95.96L194.31,95.47L194.61,94.70L194.93,94.13L195.25,93.25L195.61,93.42L196.00,92.72L196.54,91.90L197.14,91.97L197.77,92.17L198.40,90.80L199.00,90.61L199.69,90.85L200.36,90.13L201.03,89.91L201.70,90.00L202.39,89.65L203.09,89.98L203.79,89.97L204.50,90.50L205.22,90.62L205.96,89.68L206.69,90.43L207.40,90.90L207.93,91.27L208.43,91.46L208.93,91.66L209.45,92.04L210.00,92.15L210.48,92.40L210.96,93.30L211.46,93.74L211.99,94.22L212.57,94.42L213.20,94.58L213.58,95.46L213.98,95.83L214.40,96.00L214.83,96.59L215.28,96.75L215.73,97.47L216.19,97.81L216.65,97.95L217.11,98.77L217.56,99.28L218.00,100.54L218.36,100.43L218.73,100.77L219.09,101.12L219.45,101.60L219.81,102.23L220.17,102.50L220.53,102.86L220.89,104.32L221.25,104.36L221.61,104.84L221.97,105.46L222.34,105.63L222.70,105.94L223.13,106.34L223.57,107.11L224.00,107.61L224.44,108.56L224.88,108.85L225.31,109.74L225.75,109.55L226.19,110.64L226.63,110.72L227.06,110.60L227.50,111.15L227.98,112.06L228.48,112.98L228.97,112.76L229.47,113.68L229.97,113.75L230.46,114.67L230.94,114.20L231.41,115.06L231.86,115.89L232.30,115.55L232.88,115.98L233.43,116.12L233.95,116.62L234.46,117.06L234.96,117.84L235.47,117.60L236.00,118.09L236.54,118.16L237.09,118.89L237.65,119.45L238.20,119.46L238.77,119.21L239.33,120.04L239.90,120.51L240.47,120.32L241.05,119.94L241.62,120.92L242.20,121.17L242.79,120.74L243.39,120.66L244.00,120.86L244.66,121.37L245.39,121.87L246.14,121.73L246.87,122.14L247.53,121.45L248.09,121.65L248.50,121.90" fill="none" stroke="#111" stroke-width="2.0" stroke-linejoin="round"/><path d="M184.50,177.00L185.06,176.81L185.84,176.53L186.50,177.17L186.60,177.66L186.68,178.10L186.76,178.69L186.83,179.55L186.89,180.26L186.95,181.29L187.01,182.06L187.06,182.95L187.11,183.77L187.16,184.39L187.21,185.06L187.27,185.40L187.33,186.00L187.40,186.02L187.48,186.10L187.55,185.61L187.63,185.44L187.70,185.01L187.78,184.32L187.85,183.60L187.93,182.89L188.02,182.10L188.10,181.46L188.19,180.41L188.29,179.77L188.39,178.80L188.50,178.01L188.57,177.51L188.64,176.95L188.72,176.40L188.80,175.78L188.88,175.07L188.97,174.55L189.05,173.74L189.14,173.21L189.23,172.54L189.32,171.86L189.41,171.04L189.50,170.50L189.59,169.88L189.68,169.06L189.77,168.36L189.86,167.80L189.95,167.31L190.04,166.48L190.13,165.88L190.22,165.49L190.30,165.05L190.45,164.28L190.59,163.42L190.74,162.92L190.88,162.05L191.03,161.61L191.17,160.85L191.31,160.29L191.45,159.82L191.59,159.30L191.73,158.95L191.87,158.49L192.00,157.90L192.22,157.34L192.43,156.45L192.63,155.71L192.83,155.10L193.04,154.67L193.26,154.17L193.50,153.40L193.81,152.76L194.15,152.44L194.50,151.77L194.85,151.52L195.19,150.92L195.50,150.54L195.88,149.88L196.19,149.53L196.53,148.96L197.00,148.45L197.41,148.28L197.87,147.69L198.37,147.53L198.90,146.98L199.45,146.84L200.00,146.47L200.56,146.35L201.13,145.86L201.71,145.79L202.32,145.54L202.95,145.50L203.60,145.33L204.18,145.10L204.78,144.85L205.39,144.75L206.02,144.65L206.66,144.61L207.32,144.48L208.00,144.41L208.61,144.54L209.25,144.47L209.91,144.34L210.58,144.54L211.24,144.31L211.91,144.43L212.56,144.34L213.20,144.61L213.82,144.68L214.43,144.59L215.03,144.83L215.63,144.97L216.22,144.94L216.82,145.11L217.41,145.32L218.00,145.62L218.59,145.60L219.18,145.97L219.77,146.18L220.35,146.39L220.93,146.69L221.52,147.06L222.11,147.13L222.70,147.62L223.23,147.71L223.76,148.10L224.29,148.39L224.83,148.46L225.36,148.94L225.90,149.27L226.43,149.35L226.97,149.56L227.50,149.88L228.02,150.44L228.51,150.46L228.99,151.03L229.47,151.12L229.97,151.61L230.49,151.75L231.04,152.10L231.64,152.60L232.30,152.78L232.76,153.09L233.24,153.51L233.74,153.70L234.27,154.01L234.80,154.30L235.36,154.28L235.92,154.61L236.49,155.04L237.07,155.28L237.66,155.35L238.24,155.75L238.83,155.93L239.42,156.24L240.00,156.38L240.56,156.58L241.16,157.11L241.78,157.15L242.43,157.56L243.09,157.57L243.75,157.92L244.41,158.05L245.05,158.37L245.67,158.51L246.27,158.87L246.82,158.90L247.33,159.26L247.79,159.35L248.18,159.37L248.50,159.60" fill="none" stroke="#b06660" stroke-width="1.2" stroke-linejoin="round"/><path d="M184.50,176.80L185.06,176.35L185.84,176.25L186.50,177.46L186.59,177.23L186.67,177.61L186.75,179.07L186.81,179.71L186.87,180.33L186.93,180.66L186.98,181.40L187.03,182.34L187.08,182.94L187.13,183.66L187.17,184.85L187.22,185.32L187.28,185.93L187.34,186.02L187.40,185.76L187.48,186.46L187.55,186.21L187.63,185.74L187.70,185.27L187.78,184.84L187.85,184.48L187.93,183.61L188.02,182.62L188.10,181.41L188.19,180.44L188.29,179.66L188.39,179.38L188.50,177.88L188.57,177.36L188.64,176.84L188.71,175.96L188.79,176.30L188.87,174.58L188.96,174.60L189.04,174.29L189.13,172.87L189.22,172.58L189.30,171.64L189.39,170.80L189.48,170.06L189.57,169.29L189.66,169.42L189.75,168.69L189.83,168.18L189.92,166.61L190.00,166.72L190.08,165.74L190.16,165.55L190.23,164.93L190.30,164.20L190.44,163.99L190.57,162.10L190.69,162.21L190.80,161.69L190.91,160.74L191.02,160.29L191.13,160.21L191.24,158.85L191.37,158.73L191.50,158.27L191.64,157.24L191.79,156.97L191.94,155.97L192.10,155.48L192.26,154.94L192.42,154.40L192.59,153.41L192.75,153.18L192.93,152.54L193.10,151.70L193.40,151.38L193.71,150.35L194.02,150.47L194.35,149.46L194.67,149.23L195.00,148.52L195.38,147.93L195.74,147.16L196.12,146.63L196.53,147.07L197.00,146.23L197.53,145.84L198.10,145.48L198.71,145.45L199.35,144.50L200.00,144.14L200.56,144.63L201.13,144.01L201.71,144.01L202.32,144.04L202.95,143.96L203.60,143.80L204.18,142.82L204.78,143.13L205.39,143.58L206.02,143.54L206.66,142.77L207.32,142.80L208.00,142.93L208.61,142.78L209.25,143.09L209.91,143.61L210.58,143.35L211.24,143.33L211.91,143.01L212.56,143.46L213.20,144.25L213.82,144.07L214.43,143.98L215.03,144.22L215.63,144.80L216.22,144.99L216.82,144.58L217.41,145.43L218.00,145.35L218.59,145.80L219.18,145.78L219.77,146.23L220.35,146.51L220.93,146.88L221.52,146.82L222.11,147.39L222.70,148.18L223.18,147.94L223.65,148.41L224.13,149.36L224.61,149.24L225.09,149.67L225.58,149.96L226.06,151.00L226.54,150.57L227.02,151.56L227.50,152.19L227.98,151.86L228.47,152.50L228.96,153.32L229.45,153.53L229.94,153.67L230.42,153.72L230.90,154.56L231.38,154.88L231.84,155.65L232.30,155.57L232.79,156.11L233.27,156.78L233.74,157.36L234.20,157.25L234.66,157.67L235.11,158.27L235.57,159.03L236.03,158.59L236.50,159.82L237.04,159.95L237.58,159.99L238.13,160.72L238.68,160.75L239.23,160.86L239.76,161.99L240.29,161.93L240.80,162.43L241.36,162.75L241.89,163.52L242.41,163.67L242.92,163.15L243.44,164.05L243.96,164.18L244.50,164.46L245.09,165.16L245.74,165.00L246.40,165.36L247.05,166.10L247.64,165.86L248.14,166.13L248.50,166.30" fill="none" stroke="#111" stroke-width="2.0" stroke-linejoin="round"/><path d="M183.60,235.80L184.24,235.58L185.00,236.30L185.11,236.68L185.21,237.31L185.30,237.95L185.39,238.67L185.48,239.72L185.57,240.53L185.65,241.39L185.74,242.08L185.82,242.43L185.91,242.81L186.00,242.87L186.08,242.99L186.16,242.53L186.24,242.15L186.31,241.86L186.39,241.21L186.47,240.39L186.55,239.83L186.63,239.04L186.71,238.13L186.80,237.13L186.90,236.44L187.00,235.48L187.06,235.03L187.12,234.62L187.18,234.00L187.24,233.42L187.31,232.58L187.37,232.00L187.44,231.39L187.51,230.57L187.58,230.18L187.65,229.28L187.72,228.58L187.79,227.91L187.86,227.21L187.93,226.72L188.01,225.96L188.08,225.31L188.15,224.66L188.22,223.94L188.29,223.45L188.36,223.08L188.43,222.55L188.50,222.11L188.65,221.01L188.79,220.17L188.93,219.40L189.07,218.90L189.21,218.27L189.35,217.77L189.50,217.30L189.66,216.87L189.82,216.38L190.00,216.09L190.39,215.22L190.80,214.96L191.24,214.49L191.71,213.96L192.20,213.54L192.57,213.15L192.95,212.61L193.35,212.13L193.76,211.51L194.18,210.95L194.59,210.58L195.00,209.94L195.46,209.51L195.91,209.00L196.37,208.41L196.84,207.87L197.35,207.55L197.90,206.98L198.40,206.80L198.92,206.28L199.45,206.14L200.02,205.97L200.63,205.58L201.28,205.62L202.00,205.17L202.55,205.18L203.16,204.89L203.81,204.96L204.48,204.70L205.17,204.62L205.86,204.39L206.54,204.32L207.20,204.21L207.82,204.01L208.40,203.91L209.14,204.05L209.81,203.82L210.43,204.07L211.03,203.91L211.64,203.94L212.29,204.01L213.00,204.29L213.61,204.40L214.26,204.30L214.94,204.45L215.63,204.41L216.33,204.70L217.02,204.73L217.68,204.67L218.32,204.75L218.90,205.06L219.57,205.01L220.16,205.40L220.71,205.39L221.25,205.55L221.79,205.84L222.36,205.99L223.00,206.32L223.55,206.43L224.13,206.93L224.73,207.05L225.35,207.51L225.98,207.62L226.61,208.13L227.23,208.50L227.83,208.61L228.40,208.76L229.00,209.12L229.55,209.43L230.08,209.52L230.60,209.81L231.13,209.88L231.70,210.20L232.32,210.51L233.00,210.68L233.50,210.94L234.02,210.96L234.57,211.38L235.14,211.37L235.72,211.82L236.32,212.06L236.93,212.27L237.54,212.37L238.16,212.53L238.78,212.78L239.39,213.13L240.00,213.30L240.58,213.66L241.20,213.67L241.85,214.06L242.52,214.45L243.19,214.66L243.86,214.93L244.51,215.08L245.14,215.37L245.73,215.66L246.27,216.09L246.75,216.28L247.17,216.28L247.50,216.50" fill="none" stroke="#b06660" stroke-width="1.2" stroke-linejoin="round"/><path d="M183.60,235.60L184.24,235.82L185.00,235.49L185.10,236.52L185.19,237.50L185.28,237.51L185.36,238.96L185.45,239.47L185.53,239.64L185.60,240.76L185.68,241.63L185.76,242.05L185.84,243.08L185.92,242.76L186.00,243.52L186.08,242.86L186.15,242.35L186.23,242.50L186.31,241.49L186.38,241.39L186.46,240.97L186.54,240.01L186.62,239.07L186.69,237.78L186.77,237.47L186.85,236.17L186.92,235.95L187.00,234.60L187.05,234.55L187.10,233.76L187.14,233.22L187.19,232.96L187.23,231.82L187.27,231.23L187.31,231.47L187.35,230.18L187.40,230.12L187.44,229.52L187.49,228.44L187.54,227.43L187.59,226.72L187.64,226.93L187.70,225.43L187.77,225.19L187.84,224.57L187.92,223.44L188.00,223.16L188.08,222.25L188.16,222.04L188.25,221.38L188.35,220.58L188.45,219.74L188.55,219.30L188.66,218.40L188.77,217.63L188.88,217.07L188.99,217.09L189.11,216.00L189.22,215.76L189.34,214.14L189.45,214.52L189.57,213.40L189.68,213.13L189.79,212.30L189.90,211.88L190.01,210.85L190.11,210.94L190.21,209.83L190.30,209.54L190.61,208.08L190.90,207.67L191.16,207.26L191.43,206.62L191.70,206.90L192.00,205.54L192.38,205.44L192.77,204.44L193.18,204.26L193.62,203.93L194.10,203.33L194.63,202.14L195.21,201.90L195.81,201.88L196.41,201.91L197.00,200.50L197.54,200.76L198.06,200.49L198.58,200.29L199.15,199.45L199.80,199.64L200.32,199.03L200.89,199.31L201.49,198.08L202.11,198.88L202.74,198.09L203.38,197.88L204.00,197.35L204.62,197.34L205.25,197.69L205.89,197.45L206.52,196.71L207.16,196.78L207.79,196.46L208.40,196.47L209.10,196.48L209.77,196.65L210.44,197.44L211.11,197.59L211.80,197.53L212.50,197.38L213.04,197.56L213.59,198.05L214.14,198.39L214.69,198.43L215.26,198.55L215.83,198.34L216.41,199.11L217.00,199.68L217.48,199.91L217.98,199.47L218.48,200.51L218.99,200.47L219.50,200.65L220.01,201.92L220.52,202.00L221.02,202.48L221.52,202.21L222.00,203.36L222.47,203.87L222.93,204.24L223.39,204.47L223.84,204.98L224.28,205.36L224.72,205.54L225.17,205.77L225.61,206.60L226.05,206.94L226.50,207.41L227.00,207.18L227.49,208.29L227.98,208.19L228.47,209.01L228.97,208.45L229.46,209.74L229.97,209.90L230.48,209.66L231.00,210.67L231.53,210.37L232.08,210.69L232.63,211.33L233.19,211.44L233.75,212.08L234.31,212.90L234.88,213.03L235.44,213.44L236.00,213.48L236.49,214.27L236.98,214.65L237.45,214.90L237.93,215.56L238.41,215.82L238.89,215.75L239.39,215.80L239.90,216.83L240.44,217.44L241.00,217.32L241.47,217.95L241.98,218.60L242.53,218.95L243.10,218.50L243.69,219.45L244.27,219.35L244.85,219.87L245.41,221.04L245.93,220.98L246.41,221.54L246.84,221.68L247.21,221.81L247.50,222.20" fill="none" stroke="#111" stroke-width="2.0" stroke-linejoin="round"/><line x1="111.60" y1="54.00" x2="111.60" y2="64.00" stroke="#111" stroke-width="1.30" /><line x1="111.20" y1="120.50" x2="111.20" y2="127.50" stroke="#111" stroke-width="1.20" /><line x1="112.30" y1="179.50" x2="112.30" y2="187.00" stroke="#111" stroke-width="1.20" /><text x="7.70" y="301.30" font-size="11.40" text-anchor="start" font-weight="bold" fill="#000" stroke="#000" stroke-width="0.18" >B</text><line x1="53.40" y1="309.50" x2="53.40" y2="406.60" stroke="#111" stroke-width="1.40" /><line x1="50.30" y1="406.00" x2="104.00" y2="406.00" stroke="#111" stroke-width="1.30" /><line x1="50.00" y1="312.50" x2="53.00" y2="312.50" stroke="#111" stroke-width="1.20" /><text x="47.20" y="315.50" font-size="8.40" text-anchor="end" font-weight="normal" fill="#3a3a3a" stroke="#3a3a3a" stroke-width="0.18" >80</text><line x1="50.00" y1="335.90" x2="53.00" y2="335.90" stroke="#111" stroke-width="1.20" /><text x="47.20" y="338.90" font-size="8.40" text-anchor="end" font-weight="normal" fill="#3a3a3a" stroke="#3a3a3a" stroke-width="0.18" >60</text><line x1="50.00" y1="359.30" x2="53.00" y2="359.30" stroke="#111" stroke-width="1.20" /><text x="47.20" y="362.30" font-size="8.40" text-anchor="end" font-weight="normal" fill="#3a3a3a" stroke="#3a3a3a" stroke-width="0.18" >40</text><line x1="50.00" y1="382.70" x2="53.00" y2="382.70" stroke="#111" stroke-width="1.20" /><text x="47.20" y="385.70" font-size="8.40" text-anchor="end" font-weight="normal" fill="#3a3a3a" stroke="#3a3a3a" stroke-width="0.18" >20</text><line x1="50.00" y1="406.00" x2="53.00" y2="406.00" stroke="#111" stroke-width="1.20" /><text x="47.20" y="409.00" font-size="8.40" text-anchor="end" font-weight="normal" fill="#3a3a3a" stroke="#3a3a3a" stroke-width="0.18" >0</text><line x1="53.70" y1="317.00" x2="104.00" y2="317.00" stroke="#111" stroke-width="1.50" stroke-dasharray="2.3 1.3"/><text x="70.70" y="312.10" font-size="8.50" text-anchor="start" font-weight="normal" fill="#222" stroke="#222" stroke-width="0.18" textLength="15.0" lengthAdjust="spacingAndGlyphs" >Zero</text><text x="57.70" y="327.30" font-size="8.50" text-anchor="start" font-weight="normal" fill="#222" stroke="#222" stroke-width="0.18" textLength="39.3" lengthAdjust="spacingAndGlyphs" >Contraction</text><rect x="56.9" y="385.3" width="18.1" height="20.7" fill="#2f4a7f"/><line x1="66.00" y1="385.30" x2="66.00" y2="383.40" stroke="#111" stroke-width="1.20" /><line x1="61.50" y1="383.40" x2="70.30" y2="383.40" stroke="#111" stroke-width="1.30" /><rect x="81.9" y="377.2" width="18.0" height="28.8" fill="#ab0a2e"/><line x1="85.00" y1="376.50" x2="96.10" y2="376.50" stroke="#111" stroke-width="1.30" /><text x="90.60" y="374.50" font-size="8.50" text-anchor="middle" font-weight="bold" fill="#111" stroke="#111" stroke-width="0.18" >*</text><text x="31.00" y="358.60" font-size="9.20" text-anchor="middle" font-weight="normal" fill="#222" stroke="#222" stroke-width="0.15" textLength="51.0" lengthAdjust="spacingAndGlyphs" transform="rotate(-90 31.00 358.60)">Clot area (mm<tspan font-size="5.5" dy="-3">2</tspan><tspan dy="3">)</tspan></text><text x="126.00" y="334.90" font-size="8.50" text-anchor="start" font-weight="normal" fill="#222" stroke="#222" stroke-width="0.18" textLength="25.2" lengthAdjust="spacingAndGlyphs" >Control</text><line x1="113.60" y1="339.70" x2="163.20" y2="339.70" stroke="#222" stroke-width="1.30" /><text x="202.40" y="334.90" font-size="8.50" text-anchor="start" font-weight="normal" fill="#222" stroke="#222" stroke-width="0.18" textLength="21.6" lengthAdjust="spacingAndGlyphs" font-style="italic" >Arpc2</text><text x="224.20" y="331.20" font-size="5.00" text-anchor="start" font-weight="normal" fill="#222" stroke="#222" stroke-width="0.18" textLength="6.4" lengthAdjust="spacingAndGlyphs" font-style="italic" >fl/fl</text><line x1="191.50" y1="339.70" x2="241.10" y2="339.70" stroke="#222" stroke-width="1.30" /><rect x="112.6" y="344.9" width="129.8" height="48.7" fill="#161413"/><rect x="114.8" y="345.3" width="22.2" height="9.4" rx="1.5" fill="#24201b"/><rect x="114.8" y="354.7" width="22.2" height="34.6" rx="2" fill="url(#liq)"/><rect x="115.3" y="354.7" width="21.2" height="1.3" fill="#d9c68a"/><rect x="115.6" y="385.3" width="20.6" height="3.4" rx="1.5" fill="#dcaa48" filter="url(#b05)"/><polygon points="127.2,365.0 136.2,364.6 136.2,382.6 128.0,382.2 126.6,377.0 127.8,371.0" fill="#efc655" filter="url(#b05)"/><rect x="114.8" y="345.3" width="1" height="44.0" fill="#5a4c30" opacity="0.6"/><rect x="136.0" y="345.3" width="1" height="44.0" fill="#5a4c30" opacity="0.6"/><rect x="143.0" y="345.3" width="21.0" height="10.2" rx="1.5" fill="#24201b"/><rect x="143.0" y="355.5" width="21.0" height="33.1" rx="2" fill="url(#liq)"/><rect x="143.5" y="355.5" width="20.0" height="1.3" fill="#d9c68a"/><rect x="143.8" y="384.6" width="19.4" height="3.4" rx="1.5" fill="#dcaa48" filter="url(#b05)"/><polygon points="155.0,358.2 162.8,357.8 162.8,377.6 151.0,374.6 152.6,366.0" fill="#efc655" filter="url(#b05)"/><rect x="143.0" y="345.3" width="1" height="43.3" fill="#5a4c30" opacity="0.6"/><rect x="163.0" y="345.3" width="1" height="43.3" fill="#5a4c30" opacity="0.6"/><rect x="192.9" y="345.3" width="20.4" height="11.2" rx="1.5" fill="#24201b"/><rect x="192.9" y="356.5" width="20.4" height="33.7" rx="2" fill="url(#liq)"/><rect x="193.4" y="356.5" width="19.4" height="1.3" fill="#d9c68a"/><rect x="193.7" y="386.2" width="18.8" height="3.4" rx="1.5" fill="#dcaa48" filter="url(#b05)"/><polygon points="202.1,357.6 212.8,357.4 212.8,378.0 202.2,377.8 203.2,368.0" fill="#efc655" filter="url(#b05)"/><rect x="192.9" y="345.3" width="1" height="44.9" fill="#5a4c30" opacity="0.6"/><rect x="212.3" y="345.3" width="1" height="44.9" fill="#5a4c30" opacity="0.6"/><rect x="216.3" y="345.3" width="20.3" height="12.1" rx="1.5" fill="#24201b"/><rect x="216.3" y="357.4" width="20.3" height="33.2" rx="2" fill="url(#liq)"/><rect x="216.8" y="357.4" width="19.3" height="1.3" fill="#d9c68a"/><rect x="217.1" y="386.6" width="18.7" height="3.4" rx="1.5" fill="#dcaa48" filter="url(#b05)"/><polygon points="225.7,363.8 236.2,362.0 236.2,384.0 225.5,382.2 224.2,373.0" fill="#efc655" filter="url(#b05)"/><rect x="216.3" y="345.3" width="1" height="45.3" fill="#5a4c30" opacity="0.6"/><rect x="235.6" y="345.3" width="1" height="45.3" fill="#5a4c30" opacity="0.6"/><text x="266.60" y="17.60" font-size="11.20" text-anchor="start" font-weight="bold" fill="#000" stroke="#000" stroke-width="0.18" >C</text><line x1="302.50" y1="24.70" x2="302.50" y2="131.30" stroke="#111" stroke-width="1.40" /><line x1="299.20" y1="130.60" x2="340.30" y2="130.60" stroke="#111" stroke-width="1.40" /><line x1="299.50" y1="27.00" x2="302.50" y2="27.00" stroke="#111" stroke-width="1.20" /><text x="296.40" y="30.00" font-size="8.40" text-anchor="end" font-weight="normal" fill="#3a3a3a" stroke="#3a3a3a" stroke-width="0.18" >250</text><line x1="299.50" y1="47.70" x2="302.50" y2="47.70" stroke="#111" stroke-width="1.20" /><text x="296.40" y="50.70" font-size="8.40" text-anchor="end" font-weight="normal" fill="#3a3a3a" stroke="#3a3a3a" stroke-width="0.18" >200</text><line x1="299.50" y1="68.50" x2="302.50" y2="68.50" stroke="#111" stroke-width="1.20" /><text x="296.40" y="71.50" font-size="8.40" text-anchor="end" font-weight="normal" fill="#3a3a3a" stroke="#3a3a3a" stroke-width="0.18" >150</text><line x1="299.50" y1="89.30" x2="302.50" y2="89.30" stroke="#111" stroke-width="1.20" /><text x="296.40" y="92.30" font-size="8.40" text-anchor="end" font-weight="normal" fill="#3a3a3a" stroke="#3a3a3a" stroke-width="0.18" >100</text><line x1="299.50" y1="110.00" x2="302.50" y2="110.00" stroke="#111" stroke-width="1.20" /><text x="296.40" y="113.00" font-size="8.40" text-anchor="end" font-weight="normal" fill="#3a3a3a" stroke="#3a3a3a" stroke-width="0.18" >50</text><line x1="299.50" y1="130.70" x2="302.50" y2="130.70" stroke="#111" stroke-width="1.20" /><text x="296.40" y="133.70" font-size="8.40" text-anchor="end" font-weight="normal" fill="#3a3a3a" stroke="#3a3a3a" stroke-width="0.18" >0</text><rect x="305.5" y="49.6" width="13.4" height="81.1" fill="#2f4a7f"/><line x1="312.40" y1="49.60" x2="312.40" y2="37.40" stroke="#111" stroke-width="1.50" /><line x1="308.50" y1="37.40" x2="316.30" y2="37.40" stroke="#111" stroke-width="1.50" /><rect x="325.1" y="55.1" width="13.1" height="75.6" fill="#ab0a2e"/><line x1="331.75" y1="55.10" x2="331.75" y2="40.80" stroke="#111" stroke-width="1.50" /><line x1="327.90" y1="40.80" x2="335.60" y2="40.80" stroke="#111" stroke-width="1.50" /><text x="275.10" y="78.00" font-size="9.20" text-anchor="middle" font-weight="normal" fill="#222" stroke="#222" stroke-width="0.15" textLength="34.3" lengthAdjust="spacingAndGlyphs" transform="rotate(-90 275.10 78.00)">Time (sec)</text><text x="357.80" y="17.60" font-size="11.20" text-anchor="start" font-weight="bold" fill="#000" stroke="#000" stroke-width="0.18" >D</text><line x1="388.50" y1="25.10" x2="388.50" y2="131.30" stroke="#111" stroke-width="1.40" /><line x1="385.40" y1="130.60" x2="426.50" y2="130.60" stroke="#111" stroke-width="1.40" /><line x1="385.50" y1="37.00" x2="388.50" y2="37.00" stroke="#111" stroke-width="1.20" /><text x="382.40" y="40.00" font-size="8.40" text-anchor="end" font-weight="normal" fill="#3a3a3a" stroke="#3a3a3a" stroke-width="0.18" >20</text><line x1="385.50" y1="60.50" x2="388.50" y2="60.50" stroke="#111" stroke-width="1.20" /><text x="382.40" y="63.50" font-size="8.40" text-anchor="end" font-weight="normal" fill="#3a3a3a" stroke="#3a3a3a" stroke-width="0.18" >15</text><line x1="385.50" y1="83.90" x2="388.50" y2="83.90" stroke="#111" stroke-width="1.20" /><text x="382.40" y="86.90" font-size="8.40" text-anchor="end" font-weight="normal" fill="#3a3a3a" stroke="#3a3a3a" stroke-width="0.18" >10</text><line x1="385.50" y1="107.30" x2="388.50" y2="107.30" stroke="#111" stroke-width="1.20" /><text x="382.40" y="110.30" font-size="8.40" text-anchor="end" font-weight="normal" fill="#3a3a3a" stroke="#3a3a3a" stroke-width="0.18" >5</text><line x1="385.50" y1="130.70" x2="388.50" y2="130.70" stroke="#111" stroke-width="1.20" /><text x="382.40" y="133.70" font-size="8.40" text-anchor="end" font-weight="normal" fill="#3a3a3a" stroke="#3a3a3a" stroke-width="0.18" >0</text><rect x="391.2" y="74.4" width="13.7" height="56.3" fill="#2f4a7f"/><line x1="398.20" y1="74.40" x2="398.20" y2="59.40" stroke="#111" stroke-width="1.50" /><line x1="394.50" y1="59.40" x2="401.90" y2="59.40" stroke="#111" stroke-width="1.50" /><rect x="410.3" y="59.8" width="13.9" height="70.9" fill="#ab0a2e"/><line x1="417.40" y1="59.80" x2="417.40" y2="38.70" stroke="#111" stroke-width="1.50" /><line x1="413.40" y1="38.70" x2="421.40" y2="38.70" stroke="#111" stroke-width="1.50" /><text x="365.50" y="77.60" font-size="9.20" text-anchor="middle" font-weight="normal" fill="#222" stroke="#222" stroke-width="0.15" textLength="46.6" lengthAdjust="spacingAndGlyphs" transform="rotate(-90 365.50 77.60)">Blood loss (uL)</text><text x="443.80" y="17.60" font-size="11.20" text-anchor="start" font-weight="bold" fill="#000" stroke="#000" stroke-width="0.18" >E</text><line x1="474.00" y1="24.70" x2="474.00" y2="131.30" stroke="#111" stroke-width="1.80" /><line x1="471.10" y1="130.60" x2="512.60" y2="130.60" stroke="#111" stroke-width="1.40" /><line x1="471.00" y1="27.70" x2="474.00" y2="27.70" stroke="#111" stroke-width="1.20" /><text x="467.90" y="30.70" font-size="8.40" text-anchor="end" font-weight="normal" fill="#3a3a3a" stroke="#3a3a3a" stroke-width="0.18" >10</text><line x1="471.00" y1="48.50" x2="474.00" y2="48.50" stroke="#111" stroke-width="1.20" /><text x="467.90" y="51.50" font-size="8.40" text-anchor="end" font-weight="normal" fill="#3a3a3a" stroke="#3a3a3a" stroke-width="0.18" >8</text><line x1="471.00" y1="69.30" x2="474.00" y2="69.30" stroke="#111" stroke-width="1.20" /><text x="467.90" y="72.30" font-size="8.40" text-anchor="end" font-weight="normal" fill="#3a3a3a" stroke="#3a3a3a" stroke-width="0.18" >6</text><line x1="471.00" y1="89.90" x2="474.00" y2="89.90" stroke="#111" stroke-width="1.20" /><text x="467.90" y="92.90" font-size="8.40" text-anchor="end" font-weight="normal" fill="#3a3a3a" stroke="#3a3a3a" stroke-width="0.18" >4</text><line x1="471.00" y1="110.30" x2="474.00" y2="110.30" stroke="#111" stroke-width="1.20" /><text x="467.90" y="113.30" font-size="8.40" text-anchor="end" font-weight="normal" fill="#3a3a3a" stroke="#3a3a3a" stroke-width="0.18" >2</text><line x1="471.00" y1="130.70" x2="474.00" y2="130.70" stroke="#111" stroke-width="1.20" /><text x="467.90" y="133.70" font-size="8.40" text-anchor="end" font-weight="normal" fill="#3a3a3a" stroke="#3a3a3a" stroke-width="0.18" >0</text><rect x="477.4" y="74.9" width="13.4" height="55.8" fill="#2f4a7f"/><line x1="484.20" y1="74.90" x2="484.20" y2="71.90" stroke="#111" stroke-width="1.50" /><line x1="480.70" y1="71.90" x2="487.70" y2="71.90" stroke="#111" stroke-width="1.50" /><rect x="496.5" y="66.1" width="13.4" height="64.6" fill="#ab0a2e"/><line x1="503.30" y1="66.10" x2="503.30" y2="60.20" stroke="#111" stroke-width="1.50" /><line x1="499.60" y1="60.20" x2="507.00" y2="60.20" stroke="#111" stroke-width="1.50" /><text x="452.20" y="76.70" font-size="9.20" text-anchor="middle" font-weight="normal" fill="#222" stroke="#222" stroke-width="0.15" textLength="74.0" lengthAdjust="spacingAndGlyphs" transform="rotate(-90 452.20 76.70)">Time to occlusion (min)</text><text x="503.00" y="54.60" font-size="9.20" text-anchor="middle" font-weight="normal" fill="#222" stroke="#222" stroke-width="0.18" textLength="10.4" lengthAdjust="spacingAndGlyphs" >ns</text><text x="267.30" y="162.60" font-size="11.00" text-anchor="start" font-weight="bold" fill="#000" stroke="#000" stroke-width="0.18" >F</text><line x1="331.20" y1="162.50" x2="331.20" y2="244.10" stroke="#111" stroke-width="1.50" /><line x1="328.60" y1="243.40" x2="488.50" y2="243.40" stroke="#111" stroke-width="1.40" /><line x1="327.80" y1="165.40" x2="331.00" y2="165.40" stroke="#111" stroke-width="1.20" /><text x="324.60" y="168.40" font-size="8.40" text-anchor="end" font-weight="normal" fill="#3a3a3a" stroke="#3a3a3a" stroke-width="0.18" >20</text><line x1="327.80" y1="185.00" x2="331.00" y2="185.00" stroke="#111" stroke-width="1.20" /><text x="324.60" y="188.00" font-size="8.40" text-anchor="end" font-weight="normal" fill="#3a3a3a" stroke="#3a3a3a" stroke-width="0.18" >15</text><line x1="327.80" y1="204.60" x2="331.00" y2="204.60" stroke="#111" stroke-width="1.20" /><text x="324.60" y="207.60" font-size="8.40" text-anchor="end" font-weight="normal" fill="#3a3a3a" stroke="#3a3a3a" stroke-width="0.18" >10</text><line x1="327.80" y1="224.10" x2="331.00" y2="224.10" stroke="#111" stroke-width="1.20" /><text x="324.60" y="227.10" font-size="8.40" text-anchor="end" font-weight="normal" fill="#3a3a3a" stroke="#3a3a3a" stroke-width="0.18" >5</text><line x1="327.80" y1="243.70" x2="331.00" y2="243.70" stroke="#111" stroke-width="1.20" /><text x="324.60" y="246.70" font-size="8.40" text-anchor="end" font-weight="normal" fill="#3a3a3a" stroke="#3a3a3a" stroke-width="0.18" >0</text><line x1="331.20" y1="243.70" x2="331.20" y2="246.20" stroke="#111" stroke-width="1.10" /><line x1="341.58" y1="243.70" x2="341.58" y2="246.20" stroke="#111" stroke-width="1.10" /><line x1="351.96" y1="243.70" x2="351.96" y2="246.20" stroke="#111" stroke-width="1.10" /><line x1="362.34" y1="243.70" x2="362.34" y2="246.20" stroke="#111" stroke-width="1.10" /><line x1="372.72" y1="243.70" x2="372.72" y2="246.20" stroke="#111" stroke-width="1.10" /><line x1="383.10" y1="243.70" x2="383.10" y2="246.20" stroke="#111" stroke-width="1.10" /><line x1="393.48" y1="243.70" x2="393.48" y2="246.20" stroke="#111" stroke-width="1.10" /><line x1="403.86" y1="243.70" x2="403.86" y2="246.20" stroke="#111" stroke-width="1.10" /><line x1="414.24" y1="243.70" x2="414.24" y2="246.20" stroke="#111" stroke-width="1.10" /><line x1="424.62" y1="243.70" x2="424.62" y2="246.20" stroke="#111" stroke-width="1.10" /><line x1="435.00" y1="243.70" x2="435.00" y2="246.20" stroke="#111" stroke-width="1.10" /><line x1="445.38" y1="243.70" x2="445.38" y2="246.20" stroke="#111" stroke-width="1.10" /><line x1="455.76" y1="243.70" x2="455.76" y2="246.20" stroke="#111" stroke-width="1.10" /><line x1="466.14" y1="243.70" x2="466.14" y2="246.20" stroke="#111" stroke-width="1.10" /><line x1="476.52" y1="243.70" x2="476.52" y2="246.20" stroke="#111" stroke-width="1.10" /><line x1="486.90" y1="243.70" x2="486.90" y2="246.20" stroke="#111" stroke-width="1.10" /><text x="331.20" y="257.60" font-size="8.40" text-anchor="middle" font-weight="normal" fill="#333" stroke="#333" stroke-width="0.18" >0</text><text x="383.10" y="257.60" font-size="8.40" text-anchor="middle" font-weight="normal" fill="#333" stroke="#333" stroke-width="0.18" >5</text><text x="435.00" y="257.60" font-size="8.40" text-anchor="middle" font-weight="normal" fill="#333" stroke="#333" stroke-width="0.18" >10</text><text x="486.90" y="257.60" font-size="8.40" text-anchor="middle" font-weight="normal" fill="#333" stroke="#333" stroke-width="0.18" >15</text><text x="410.50" y="271.70" font-size="10.20" text-anchor="middle" font-weight="normal" fill="#222" stroke="#222" stroke-width="0.40" textLength="34.0" lengthAdjust="spacingAndGlyphs" >Time (min)</text><text x="306.50" y="198.10" font-size="9.20" text-anchor="middle" font-weight="normal" fill="#222" stroke="#222" stroke-width="0.15" textLength="52.6" lengthAdjust="spacingAndGlyphs" transform="rotate(-90 306.50 198.10)">GPIX intensity (AU)</text><line x1="336.50" y1="183.00" x2="336.50" y2="205.40" stroke="#111" stroke-width="1.30" /><path d="M336.50,209.40 L334.00,203.20 L339.00,203.20 Z" fill="#111"/><line x1="388.10" y1="172.70" x2="388.10" y2="201.10" stroke="#111" stroke-width="1.30" /><path d="M388.10,205.10 L385.60,198.90 L390.60,198.90 Z" fill="#111"/><line x1="437.70" y1="168.30" x2="437.70" y2="190.20" stroke="#111" stroke-width="1.30" /><path d="M437.70,194.20 L435.20,188.00 L440.20,188.00 Z" fill="#111"/><text x="337.10" y="168.50" font-size="8.30" text-anchor="start" font-weight="normal" fill="#2a2a2a" stroke="#2a2a2a" stroke-width="0.05" textLength="16.7" lengthAdjust="spacingAndGlyphs" >Initial</text><text x="337.10" y="177.60" font-size="8.30" text-anchor="start" font-weight="normal" fill="#2a2a2a" stroke="#2a2a2a" stroke-width="0.05" textLength="16.0" lengthAdjust="spacingAndGlyphs" >injury</text><text x="388.70" y="167.80" font-size="8.20" text-anchor="start" font-weight="normal" fill="#2a2a2a" stroke="#2a2a2a" stroke-width="0.05" textLength="37.5" lengthAdjust="spacingAndGlyphs" >1<tspan font-size="4.8" dy="-2.6">st</tspan><tspan dy="2.6"> re-injury</tspan></text><text x="437.70" y="162.60" font-size="8.20" text-anchor="start" font-weight="normal" fill="#2a2a2a" stroke="#2a2a2a" stroke-width="0.05" textLength="39.4" lengthAdjust="spacingAndGlyphs" >2<tspan font-size="4.8" dy="-2.6">nd</tspan><tspan dy="2.6"> re-injury</tspan></text><path d="M331.00,242.60L331.33,242.64L331.77,242.76L332.31,242.91L332.91,243.09L333.55,243.25L334.20,243.38L334.84,243.45L335.45,243.44L336.00,243.31L336.45,243.04L336.80,241.10L336.92,240.20L337.03,239.35L337.11,238.55L337.18,237.80L337.23,237.09L337.27,236.41L337.30,235.77L337.31,235.16L337.32,234.58L337.31,234.03L337.30,233.49L337.29,232.97L337.27,232.47L337.24,231.98L337.22,231.50L337.20,231.02L337.18,230.54L337.17,230.06L337.16,229.57L337.15,229.08L337.16,228.57L337.17,228.04L337.20,227.50L337.27,226.45L337.34,225.43L337.41,224.42L337.49,223.43L337.58,222.81L337.67,222.26L337.76,221.73L337.86,221.21L337.97,220.72L338.07,220.23L338.19,219.74L338.30,219.26L338.48,218.55L338.68,217.88L338.88,217.25L339.09,216.65L339.31,216.07L339.54,215.51L339.77,214.97L340.00,214.43L340.27,213.82L340.55,213.23L340.84,212.66L341.13,212.17L341.42,211.78L341.71,211.43L342.00,211.10L342.50,210.59L343.00,210.16L343.50,209.85L344.00,209.70L344.50,209.72L345.00,209.88L345.50,210.20L346.00,210.70L346.24,211.09L346.48,211.52L346.71,212.00L346.94,212.52L347.18,213.09L347.44,213.69L347.71,214.33L348.00,215.00L348.20,215.45L348.40,215.94L348.62,216.47L348.85,217.02L349.08,217.59L349.31,218.16L349.55,218.74L349.79,219.31L350.02,219.86L350.25,220.39L350.48,220.88L350.69,221.33L350.90,221.73L351.31,222.46L351.69,223.04L352.05,223.51L352.41,223.92L352.79,224.28L353.20,224.63L353.73,225.03L354.27,225.35L354.84,225.62L355.45,225.83L356.10,226.02L356.60,226.14L357.11,226.25L357.64,226.34L358.20,226.41L358.78,226.48L359.38,226.54L360.00,226.60L360.46,226.52L360.93,226.42L361.42,226.31L361.92,226.19L362.43,226.07L362.95,225.94L363.47,225.82L363.98,225.71L364.50,225.60L365.00,225.50L365.50,225.41L366.00,225.32L366.50,225.24L367.00,225.16L367.50,225.08L368.00,225.01L368.50,224.95L369.00,224.89L369.50,224.84L370.00,224.80L370.50,224.80L371.00,224.81L371.50,224.84L372.00,224.86L372.50,224.90L373.00,224.94L373.50,224.98L374.00,225.02L374.50,225.06L375.00,225.10L375.50,225.14L376.00,225.18L376.50,225.22L377.00,225.26L377.50,225.30L378.00,225.34L378.50,225.38L379.00,225.42L379.50,225.46L380.00,225.50L380.51,225.52L381.04,225.53L381.58,225.54L382.12,225.55L382.65,225.56L383.17,225.57L383.68,225.59L384.15,225.61L384.60,225.63L385.00,225.67L385.70,225.69L386.29,225.67L386.79,225.70L387.22,225.87L387.60,226.23L387.76,226.50L387.90,226.94L388.02,227.49L388.12,228.11L388.20,228.76L388.28,229.38L388.35,229.94L388.43,230.39L388.51,230.68L388.60,230.77L388.71,230.65L388.82,230.38L388.93,229.97L389.04,229.44L389.15,228.81L389.26,228.09L389.37,227.31L389.48,226.47L389.60,225.60L389.65,225.19L389.70,224.77L389.75,224.32L389.80,223.87L389.85,223.39L389.90,222.90L389.95,222.39L390.00,221.87L390.05,221.34L390.10,220.80L390.15,220.24L390.20,219.68L390.26,219.10L390.32,218.52L390.37,217.92L390.43,217.32L390.50,216.72L390.56,216.07L390.63,215.42L390.70,214.76L390.76,214.24L390.81,213.71L390.87,213.17L390.93,212.62L390.99,212.06L391.05,211.49L391.12,210.91L391.18,210.32L391.24,209.73L391.31,209.13L391.38,208.53L391.44,207.92L391.51,207.31L391.58,206.70L391.65,206.09L391.72,205.48L391.80,204.87L391.87,204.26L391.95,203.66L392.02,203.06L392.10,202.46L392.18,201.87L392.26,201.29L392.34,200.72L392.42,200.15L392.50,199.60L392.60,198.92L392.71,198.23L392.82,197.53L392.94,196.84L393.06,196.15L393.18,195.48L393.30,194.81L393.42,194.14L393.55,193.48L393.67,192.83L393.80,192.19L393.93,191.55L394.05,190.93L394.18,190.33L394.30,189.73L394.42,189.16L394.54,188.60L394.66,188.07L394.78,187.56L394.89,187.07L395.00,186.60L395.24,185.62L395.47,184.76L395.69,184.01L395.91,183.35L396.12,182.85L396.33,182.49L396.54,182.15L396.77,181.81L397.00,181.45L397.37,180.90L397.75,180.38L398.14,179.91L398.53,179.50L398.92,179.17L399.30,178.94L399.86,178.81L400.41,178.83L400.96,178.95L401.50,179.10L401.91,179.22L402.28,179.36L402.67,179.55L403.10,179.78L403.60,180.08L403.91,180.27L404.23,180.58L404.57,180.96L404.92,181.36L405.29,181.78L405.69,182.23L406.10,182.71L406.54,183.21L407.00,183.75L407.32,184.12L407.65,184.51L408.00,184.91L408.37,185.33L408.74,185.77L409.12,186.22L409.51,186.67L409.90,187.13L410.30,187.59L410.69,188.06L411.08,188.52L411.46,188.97L411.84,189.42L412.20,189.84L412.58,190.29L412.95,190.72L413.31,191.15L413.67,191.58L414.03,192.00L414.38,192.42L414.73,192.85L415.09,193.28L415.46,193.72L415.83,194.16L416.20,194.62L416.60,195.10L417.00,195.59L417.34,196.01L417.70,196.45L418.06,196.92L418.44,197.40L418.82,197.89L419.21,198.38L419.60,198.88L419.99,199.38L420.38,199.88L420.77,200.36L421.15,200.84L421.53,201.29L421.89,201.73L422.24,202.14L422.58,202.53L422.90,202.88L423.43,203.39L423.92,203.83L424.39,204.21L424.82,204.54L425.25,204.84L425.67,205.12L426.10,205.38L426.54,205.66L427.00,205.95L427.49,206.25L427.99,206.54L428.51,206.82L429.03,207.09L429.55,207.36L430.06,207.62L430.56,207.87L431.04,208.13L431.50,208.48L432.05,208.91L432.57,209.32L433.07,209.71L433.55,210.10L434.03,210.48L434.51,210.85L435.00,211.23L435.52,211.60L436.06,211.96L436.62,212.32L437.15,212.67L437.66,213.03L438.12,213.32L438.50,213.43L438.91,213.64L439.20,213.88L439.41,214.22L439.60,214.71L439.80,215.40L439.88,215.77L439.96,216.25L440.04,216.81L440.11,217.42L440.18,218.07L440.24,218.72L440.31,219.37L440.37,219.97L440.44,220.51L440.50,220.97L440.57,221.32L440.63,221.54L440.70,221.60L440.77,221.52L440.83,221.34L440.90,221.07L440.96,220.71L441.02,220.26L441.08,219.72L441.14,219.12L441.21,218.46L441.28,217.75L441.35,216.99L441.43,216.21L441.51,215.39L441.60,214.55L441.64,214.13L441.69,213.68L441.74,213.21L441.79,212.72L441.84,212.21L441.89,211.68L441.94,211.14L441.99,210.58L442.04,210.00L442.09,209.42L442.15,208.83L442.20,208.23L442.26,207.63L442.32,207.03L442.37,206.42L442.43,205.81L442.49,205.21L442.55,204.61L442.61,204.02L442.67,203.43L442.73,202.86L442.79,202.29L442.85,201.75L442.91,201.21L442.97,200.70L443.04,200.20L443.10,199.73L443.19,199.04L443.29,198.39L443.38,197.76L443.47,197.15L443.56,196.56L443.66,195.99L443.75,195.43L443.85,194.88L443.94,194.34L444.04,193.81L444.15,193.28L444.26,192.76L444.37,192.23L444.48,191.70L444.60,191.17L444.73,190.62L444.86,190.07L445.00,189.50L445.15,188.81L445.32,188.11L445.49,187.39L445.67,186.67L445.85,185.94L446.04,185.21L446.24,184.47L446.43,183.73L446.63,183.00L446.83,182.27L447.03,181.54L447.23,180.82L447.43,180.11L447.63,179.41L447.82,178.73L448.01,178.05L448.20,177.40L448.44,176.56L448.67,175.72L448.90,174.88L449.13,174.21L449.36,173.67L449.59,173.13L449.82,172.62L450.05,172.12L450.28,171.65L450.50,171.21L450.73,170.80L450.97,170.42L451.20,170.08L451.71,169.48L452.22,169.03L452.74,168.71L453.26,168.47L453.78,168.27L454.30,168.10L454.83,167.97L455.37,167.92L455.91,167.93L456.45,167.97L456.98,168.04L457.50,168.10L458.00,168.15L458.49,168.19L458.96,168.26L459.44,168.36L459.91,168.52L460.40,168.75L460.78,168.98L461.16,169.24L461.56,169.54L461.95,169.87L462.34,170.37L462.71,170.91L463.07,171.46L463.40,172.01L463.67,172.49L463.93,172.99L464.17,173.49L464.40,174.00L464.62,174.52L464.84,175.06L465.06,175.60L465.28,176.15L465.50,176.72L465.70,177.24L465.89,177.77L466.08,178.32L466.26,178.87L466.44,179.43L466.63,180.00L466.83,180.57L467.04,181.14L467.26,181.72L467.50,182.30L467.73,183.16L467.96,184.04L468.19,184.94L468.43,185.86L468.68,186.79L468.94,187.73L469.21,188.68L469.50,189.64L469.81,190.59L470.14,191.55L470.50,192.50L470.93,192.85L471.40,193.16L471.91,193.43L472.44,193.68L472.99,193.89L473.54,194.08L474.08,194.26L474.62,194.43L475.13,194.60L475.60,194.77L476.15,194.95L476.68,195.08L477.18,195.17L477.66,195.25L478.14,195.35L478.62,195.49L479.10,195.69L479.60,195.99L479.97,196.26L480.35,196.58L480.72,196.93L481.10,197.32L481.49,197.73L481.86,198.25L482.24,198.91L482.62,199.58L482.98,200.24L483.35,200.89L483.70,201.52L484.06,202.16L484.43,202.85L484.82,203.56L485.20,204.27L485.57,204.99L485.94,205.68L486.28,206.34L486.59,206.94L486.87,207.48L487.11,207.94L487.30,208.30L487.30,217.90L487.11,217.79L486.87,217.65L486.59,217.48L486.28,217.29L485.94,217.08L485.57,216.87L485.20,216.65L484.82,216.44L484.43,216.24L484.06,216.05L483.70,215.88L483.35,215.72L482.98,215.55L482.62,215.37L482.24,215.20L481.86,215.03L481.49,214.75L481.10,214.38L480.72,214.04L480.35,213.73L479.97,213.45L479.60,213.21L479.10,212.97L478.62,212.82L478.14,212.73L477.66,212.69L477.18,212.65L476.68,212.62L476.15,212.55L475.60,212.43L475.13,212.31L474.62,212.19L474.08,212.08L473.54,211.96L472.99,211.82L472.44,211.67L471.91,211.48L471.40,211.27L470.93,211.01L470.50,210.70L470.14,210.96L469.81,211.13L469.50,211.22L469.21,211.26L468.94,211.24L468.68,211.18L468.43,211.10L468.19,211.00L467.96,210.89L467.73,210.79L467.50,210.70L467.26,210.26L467.04,209.81L466.83,209.36L466.63,208.90L466.44,208.44L466.26,207.99L466.08,207.54L465.89,207.11L465.70,206.69L465.50,206.28L465.28,205.85L465.06,205.42L464.84,205.00L464.62,204.60L464.40,204.21L464.17,203.83L463.93,203.47L463.67,203.12L463.40,202.79L463.07,202.44L462.71,202.10L462.34,201.78L461.95,201.45L461.56,201.00L461.16,200.58L460.78,200.19L460.40,199.85L459.91,199.47L459.44,199.16L458.96,198.91L458.49,198.70L458.00,198.50L457.50,198.30L456.98,198.08L456.45,197.85L455.91,197.63L455.37,197.46L454.83,197.34L454.30,197.30L453.78,197.31L453.26,197.35L452.74,197.46L452.22,197.68L451.71,198.02L451.20,198.52L450.97,198.81L450.73,199.14L450.50,199.51L450.28,199.91L450.05,200.33L449.82,200.78L449.59,201.25L449.36,201.74L449.13,202.24L448.90,202.64L448.67,202.90L448.44,203.15L448.20,203.40L448.01,203.59L447.82,203.79L447.63,203.99L447.43,204.20L447.23,204.41L447.03,204.62L446.83,204.85L446.63,205.08L446.43,205.31L446.24,205.56L446.04,205.81L445.85,206.07L445.67,206.34L445.49,206.61L445.32,206.90L445.15,207.20L445.00,207.50L444.86,207.86L444.73,208.22L444.60,208.57L444.48,208.93L444.37,209.28L444.26,209.64L444.15,210.01L444.04,210.38L443.94,210.76L443.85,211.15L443.75,211.55L443.66,211.97L443.56,212.40L443.47,212.85L443.38,213.33L443.29,213.82L443.19,214.33L443.10,214.87L443.04,215.26L442.97,215.66L442.91,216.08L442.85,216.52L442.79,216.98L442.73,217.45L442.67,217.93L442.61,218.43L442.55,218.93L442.49,219.44L442.43,219.96L442.37,220.48L442.32,221.00L442.26,221.52L442.20,222.04L442.15,222.55L442.09,223.06L442.04,223.57L441.99,224.06L441.94,224.54L441.89,225.01L441.84,225.46L441.79,225.90L441.74,226.32L441.69,226.72L441.64,227.10L441.60,227.45L441.51,228.15L441.43,228.85L441.35,229.52L441.28,230.17L441.21,230.77L441.14,231.34L441.08,231.84L441.02,232.29L440.96,232.68L440.90,233.00L440.83,233.23L440.77,233.37L440.70,233.40L440.63,233.29L440.57,233.03L440.50,232.64L440.44,232.14L440.37,231.55L440.31,230.90L440.24,230.22L440.18,229.52L440.11,228.83L440.04,228.16L439.96,227.56L439.88,227.03L439.80,226.60L439.60,225.77L439.41,225.16L439.20,224.68L438.91,224.25L438.50,223.77L438.12,223.40L437.66,223.28L437.15,223.28L436.62,223.31L436.06,223.35L435.52,223.37L435.00,223.37L434.51,223.35L434.03,223.31L433.55,223.28L433.07,223.24L432.57,223.19L432.05,223.16L431.50,223.12L431.04,223.10L430.56,222.99L430.06,222.88L429.55,222.76L429.03,222.64L428.51,222.51L427.99,222.37L427.49,222.22L427.00,222.05L426.54,221.89L426.10,221.73L425.67,221.58L425.25,221.42L424.82,221.24L424.39,221.03L423.92,220.78L423.43,220.48L422.90,220.12L422.58,219.91L422.24,219.67L421.89,219.42L421.53,219.14L421.15,218.84L420.77,218.54L420.38,218.22L419.99,217.89L419.60,217.56L419.21,217.24L418.82,216.91L418.44,216.59L418.06,216.27L417.70,215.97L417.34,215.68L417.00,215.41L416.60,215.09L416.20,214.79L415.83,214.49L415.46,214.21L415.09,213.93L414.73,213.65L414.38,213.38L414.03,213.11L413.67,212.85L413.31,212.58L412.95,212.31L412.58,212.03L412.20,211.76L411.84,211.50L411.46,211.24L411.08,210.98L410.69,210.71L410.30,210.44L409.90,210.18L409.51,209.92L409.12,209.66L408.74,209.40L408.37,209.15L408.00,208.91L407.65,208.68L407.32,208.46L407.00,208.25L406.54,207.94L406.10,207.66L405.69,207.39L405.29,207.13L404.92,206.89L404.57,206.67L404.23,206.47L403.91,206.24L403.60,205.92L403.10,205.42L402.67,205.02L402.28,204.68L401.91,204.38L401.50,204.10L400.96,203.74L400.41,203.39L399.86,203.19L399.30,203.26L398.92,203.46L398.53,203.75L398.14,204.12L397.75,204.55L397.37,205.04L397.00,205.55L396.77,205.88L396.54,206.20L396.33,206.52L396.12,206.87L395.91,207.16L395.69,207.40L395.47,207.71L395.24,208.10L395.00,208.60L394.89,208.85L394.78,209.11L394.66,209.40L394.54,209.69L394.42,210.01L394.30,210.34L394.18,210.68L394.05,211.04L393.93,211.41L393.80,211.79L393.67,212.18L393.55,212.58L393.42,212.99L393.30,213.41L393.18,213.83L393.06,214.27L392.94,214.69L392.82,215.11L392.71,215.54L392.60,215.97L392.50,216.40L392.42,216.76L392.34,217.13L392.26,217.51L392.18,217.90L392.10,218.30L392.02,218.71L391.95,219.13L391.87,219.55L391.80,219.98L391.72,220.42L391.65,220.86L391.58,221.30L391.51,221.74L391.44,222.18L391.38,222.63L391.31,223.07L391.24,223.51L391.18,223.95L391.12,224.39L391.05,224.82L390.99,225.24L390.93,225.66L390.87,226.07L390.81,226.47L390.76,226.86L390.70,227.24L390.63,227.73L390.56,228.22L390.50,228.71L390.43,229.24L390.37,229.76L390.32,230.27L390.26,230.78L390.20,231.28L390.15,231.78L390.10,232.26L390.05,232.74L390.00,233.21L389.95,233.66L389.90,234.10L389.85,234.52L389.80,234.93L389.75,235.33L389.70,235.70L389.65,236.06L389.60,236.40L389.48,237.12L389.37,237.80L389.26,238.44L389.15,239.01L389.04,239.49L388.93,239.88L388.82,240.14L388.71,240.26L388.60,240.23L388.51,240.02L388.43,239.63L388.35,239.08L388.28,238.42L388.20,237.69L388.12,236.93L388.02,236.18L387.90,235.48L387.76,234.86L387.60,234.37L387.22,233.86L386.79,233.66L386.29,233.60L385.70,233.59L385.00,233.53L384.60,233.48L384.15,233.43L383.68,233.38L383.17,233.34L382.65,233.30L382.12,233.26L381.58,233.23L381.04,233.19L380.51,233.15L380.00,233.10L379.50,233.06L379.00,233.02L378.50,232.98L378.00,232.94L377.50,232.90L377.00,232.86L376.50,232.82L376.00,232.78L375.50,232.74L375.00,232.70L374.50,232.66L374.00,232.62L373.50,232.58L373.00,232.54L372.50,232.50L372.00,232.46L371.50,232.44L371.00,232.41L370.50,232.40L370.00,232.40L369.50,232.38L369.00,232.37L368.50,232.37L368.00,232.37L367.50,232.38L367.00,232.40L366.50,232.42L366.00,232.44L365.50,232.47L365.00,232.50L364.50,232.54L363.98,232.58L363.47,232.64L362.95,232.70L362.43,232.76L361.92,232.82L361.42,232.88L360.93,232.93L360.46,232.97L360.00,233.00L359.38,233.19L358.78,233.37L358.20,233.54L357.64,233.68L357.11,233.80L356.60,233.90L356.10,233.98L355.45,234.05L354.84,234.10L354.27,234.13L353.73,234.09L353.20,233.97L352.79,233.83L352.41,233.66L352.05,233.45L351.69,233.16L351.31,232.78L350.90,232.27L350.69,231.97L350.48,231.63L350.25,231.26L350.02,230.85L349.79,230.41L349.55,229.96L349.31,229.51L349.08,229.05L348.85,228.59L348.62,228.16L348.40,227.74L348.20,227.35L348.00,227.00L347.71,226.47L347.44,225.97L347.18,225.49L346.94,225.05L346.71,224.65L346.48,224.28L346.24,223.97L346.00,223.70L345.50,223.20L345.00,222.88L344.50,222.72L344.00,222.70L343.50,222.85L343.00,223.16L342.50,223.59L342.00,224.10L341.71,224.43L341.42,224.78L341.13,225.17L340.84,225.52L340.55,225.85L340.27,226.20L340.00,226.57L339.77,226.91L339.54,227.26L339.31,227.63L339.09,228.01L338.88,228.43L338.68,228.89L338.48,229.39L338.30,229.94L338.19,230.33L338.07,230.72L337.97,231.12L337.86,231.53L337.76,231.95L337.67,232.40L337.58,232.88L337.49,233.36L337.41,233.54L337.34,233.79L337.27,234.10L337.20,234.50L337.17,234.78L337.16,235.15L337.15,235.61L337.16,236.14L337.17,236.72L337.18,237.36L337.20,238.02L337.22,238.72L337.24,239.42L337.27,240.13L337.29,240.83L337.30,241.50L337.31,242.14L337.32,242.74L337.31,243.27L337.30,243.74L337.27,244.13L337.23,244.42L337.18,244.61L337.11,244.69L337.03,244.63L336.92,244.44L336.80,244.10L336.45,243.04L336.00,243.31L335.45,243.44L334.84,243.45L334.20,243.38L333.55,243.25L332.91,243.09L332.31,242.91L331.77,242.76L331.33,242.64L331.00,242.60Z" fill="#b9b9b9"/><path d="M337.20,231.00L337.26,230.61L337.34,230.09L337.43,229.48L337.53,228.79L337.64,228.06L337.76,227.30L337.89,226.55L338.02,225.84L338.16,225.18L338.30,224.60L338.51,223.88L338.73,223.23L338.97,222.62L339.22,222.05L339.47,221.52L339.74,221.00L340.00,220.50L340.38,219.82L340.78,219.18L341.19,218.59L341.60,218.06L342.00,217.60L342.50,217.09L343.00,216.66L343.50,216.35L344.00,216.20L344.67,216.25L345.33,216.57L346.00,217.20L346.28,217.58L346.55,218.02L346.81,218.52L347.08,219.07L347.36,219.67L347.67,220.32L348.00,221.00L348.23,221.48L348.48,222.01L348.74,222.58L349.01,223.18L349.29,223.79L349.57,224.40L349.85,225.00L350.13,225.57L350.40,226.10L350.66,226.59L350.90,227.00L351.39,227.72L351.83,228.26L352.27,228.67L352.71,229.00L353.20,229.30L353.86,229.61L354.55,229.81L355.29,229.93L356.10,230.00L356.68,230.03L357.29,230.02L357.92,229.99L358.58,229.94L359.27,229.88L360.00,229.80L360.57,229.73L361.17,229.63L361.79,229.53L362.43,229.41L363.08,229.30L363.72,229.19L364.37,229.08L365.00,229.00L365.62,228.93L366.25,228.86L366.88,228.79L367.50,228.73L368.12,228.68L368.75,228.64L369.38,228.61L370.00,228.60L370.62,228.60L371.25,228.62L371.88,228.66L372.50,228.70L373.12,228.75L373.75,228.80L374.38,228.85L375.00,228.90L375.62,228.95L376.25,229.00L376.88,229.05L377.50,229.10L378.12,229.15L378.75,229.20L379.38,229.25L380.00,229.30L380.64,229.34L381.31,229.37L381.98,229.40L382.65,229.43L383.30,229.46L383.92,229.50L384.49,229.54L385.00,229.60L385.86,229.64L386.55,229.64L387.12,229.80L387.60,230.30L387.80,230.80L387.96,231.51L388.09,232.35L388.20,233.23L388.30,234.06L388.39,234.78L388.49,235.28L388.60,235.50L388.74,235.41L388.88,235.08L389.02,234.54L389.16,233.82L389.31,232.97L389.45,232.02L389.60,231.00L389.66,230.53L389.73,230.03L389.79,229.51L389.85,228.96L389.91,228.38L389.97,227.78L390.04,227.17L390.10,226.53L390.16,225.88L390.23,225.21L390.30,224.53L390.37,223.84L390.45,223.14L390.53,222.43L390.61,221.72L390.70,221.00L390.77,220.44L390.84,219.87L390.91,219.28L390.99,218.67L391.07,218.06L391.14,217.43L391.22,216.79L391.30,216.15L391.39,215.50L391.47,214.85L391.56,214.20L391.64,213.55L391.73,212.90L391.82,212.25L391.91,211.61L392.01,210.98L392.10,210.36L392.20,209.75L392.30,209.15L392.40,208.57L392.50,208.00L392.63,207.31L392.77,206.62L392.91,205.93L393.05,205.24L393.20,204.56L393.35,203.88L393.50,203.22L393.66,202.57L393.82,201.93L393.97,201.30L394.13,200.70L394.28,200.12L394.43,199.56L394.58,199.02L394.72,198.52L394.86,198.04L395.00,197.60L395.31,196.67L395.60,195.92L395.88,195.31L396.15,194.81L396.42,194.36L396.70,193.94L397.00,193.50L397.44,192.86L397.90,192.28L398.37,191.77L398.84,191.37L399.30,191.10L400.04,191.02L400.78,191.26L401.50,191.60L402.00,191.85L402.47,192.14L402.99,192.52L403.60,193.00L404.00,193.33L404.42,193.69L404.87,194.08L405.35,194.50L405.86,194.97L406.41,195.46L407.00,196.00L407.41,196.37L407.84,196.76L408.30,197.18L408.78,197.62L409.26,198.07L409.76,198.52L410.26,198.99L410.76,199.45L411.25,199.91L411.74,200.36L412.20,200.80L412.65,201.23L413.08,201.64L413.51,202.05L413.93,202.46L414.35,202.87L414.77,203.28L415.19,203.70L415.62,204.13L416.07,204.57L416.52,205.02L417.00,205.50L417.39,205.90L417.80,206.32L418.22,206.76L418.66,207.22L419.10,207.69L419.55,208.16L419.99,208.64L420.44,209.11L420.88,209.56L421.31,210.00L421.73,210.42L422.14,210.82L422.53,211.18L422.90,211.50L423.50,211.98L424.04,212.39L424.55,212.72L425.04,213.01L425.51,213.27L425.99,213.51L426.48,213.74L427.00,214.00L427.55,214.26L428.12,214.51L428.70,214.74L429.29,214.96L429.87,215.18L430.44,215.39L430.98,215.59L431.50,215.80L432.14,216.07L432.74,216.33L433.31,216.58L433.87,216.83L434.43,217.07L435.00,217.30L435.61,217.52L436.25,217.71L436.89,217.89L437.50,218.09L438.04,218.32L438.50,218.60L438.99,219.03L439.31,219.47L439.55,220.09L439.80,221.00L439.91,221.54L440.01,222.25L440.10,223.06L440.19,223.93L440.28,224.81L440.36,225.64L440.44,226.38L440.53,226.97L440.61,227.36L440.70,227.50L440.79,227.41L440.87,227.15L440.95,226.73L441.03,226.18L441.11,225.51L441.20,224.74L441.29,223.89L441.38,222.97L441.49,222.00L441.60,221.00L441.66,220.52L441.71,220.01L441.77,219.46L441.83,218.88L441.89,218.28L441.95,217.65L442.02,217.00L442.08,216.34L442.15,215.67L442.22,214.98L442.29,214.29L442.36,213.60L442.43,212.91L442.50,212.22L442.57,211.55L442.65,210.88L442.72,210.22L442.79,209.59L442.87,208.98L442.95,208.39L443.02,207.83L443.10,207.30L443.21,206.57L443.32,205.88L443.43,205.22L443.54,204.58L443.66,203.98L443.77,203.39L443.88,202.83L444.00,202.28L444.13,201.73L444.26,201.20L444.39,200.67L444.53,200.14L444.68,199.60L444.83,199.06L445.00,198.50L445.19,197.90L445.39,197.29L445.60,196.68L445.83,196.08L446.06,195.47L446.29,194.87L446.53,194.28L446.77,193.69L447.02,193.12L447.26,192.55L447.50,191.99L447.74,191.45L447.97,190.92L448.20,190.40L448.48,189.75L448.76,189.11L449.03,188.47L449.30,187.85L449.57,187.24L449.84,186.66L450.11,186.10L450.38,185.58L450.65,185.11L450.92,184.68L451.20,184.30L451.81,183.66L452.43,183.24L453.05,182.97L453.67,182.81L454.30,182.70L454.94,182.66L455.59,182.72L456.24,182.86L456.88,183.03L457.50,183.20L458.10,183.35L458.68,183.50L459.25,183.69L459.82,183.94L460.40,184.30L460.83,184.63L461.28,185.01L461.73,185.44L462.17,185.90L462.61,186.38L463.02,186.89L463.40,187.40L463.75,187.93L464.07,188.47L464.37,189.04L464.65,189.63L464.93,190.23L465.21,190.86L465.50,191.50L465.75,192.08L465.98,192.68L466.21,193.30L466.44,193.94L466.68,194.58L466.93,195.22L467.20,195.86L467.50,196.50L467.78,197.08L468.06,197.69L468.35,198.31L468.65,198.93L468.97,199.54L469.31,200.13L469.67,200.67L470.07,201.17L470.50,201.60L470.98,201.96L471.51,202.27L472.09,202.53L472.68,202.76L473.29,202.95L473.90,203.12L474.50,203.28L475.07,203.44L475.60,203.60L476.33,203.79L477.01,203.89L477.66,203.97L478.30,204.07L478.94,204.27L479.60,204.60L480.05,204.92L480.51,205.30L480.98,205.73L481.44,206.19L481.91,206.69L482.37,207.20L482.82,207.71L483.27,208.21L483.70,208.70L484.14,209.20L484.60,209.74L485.07,210.31L485.53,210.88L485.97,211.43L486.39,211.95L486.75,212.41L487.06,212.80L487.30,213.10" fill="none" stroke="#b9b9b9" stroke-width="3" stroke-linejoin="round"/><path d="M331.00,242.60L331.42,242.46L332.00,242.72L332.70,243.27L333.48,243.32L334.27,243.25L335.05,243.17L335.76,243.22L336.36,243.25L336.80,242.56L336.95,242.37L337.07,242.06L337.16,241.10L337.23,240.96L337.27,239.92L337.30,239.84L337.31,238.73L337.31,238.11L337.30,237.88L337.28,236.74L337.26,235.92L337.23,235.66L337.21,234.75L337.18,234.25L337.16,233.23L337.15,232.66L337.16,232.38L337.17,231.51L337.20,231.34L337.28,229.92L337.37,229.58L337.46,228.39L337.56,227.97L337.67,226.98L337.78,226.52L337.90,226.50L338.03,225.62L338.16,225.34L338.30,224.43L338.51,223.78L338.73,222.95L338.97,222.66L339.22,222.31L339.47,221.53L339.74,220.92L340.00,220.80L340.38,220.09L340.78,219.30L341.19,218.30L341.60,218.15L342.00,217.56L342.50,217.41L343.00,216.56L343.50,216.46L344.00,216.29L344.67,216.16L345.33,216.59L346.00,217.32L346.28,217.86L346.55,218.02L346.81,218.42L347.08,219.40L347.36,219.36L347.67,220.55L348.00,221.13L348.23,221.52L348.48,221.97L348.74,222.75L349.01,223.45L349.29,223.95L349.57,224.57L349.85,224.67L350.13,225.45L350.40,225.85L350.66,226.90L350.90,227.27L351.39,227.47L351.83,228.32L352.27,228.73L352.71,228.68L353.20,229.22L353.86,229.78L354.55,229.91L355.29,229.77L356.10,230.18L356.68,229.88L357.29,230.05L357.92,229.94L358.58,230.28L359.27,229.98L360.00,230.01L360.57,229.85L361.17,229.55L361.79,229.85L362.43,229.56L363.08,229.43L363.72,229.03L364.37,228.85L365.00,229.05L365.62,229.15L366.25,229.06L366.88,228.68L367.50,228.48L368.12,228.69L368.75,228.91L369.38,228.38L370.00,228.77L370.62,228.37L371.25,228.49L371.88,228.34L372.50,228.56L373.12,228.67L373.75,229.13L374.38,229.18L375.00,228.68L375.62,228.81L376.25,229.31L376.88,228.84L377.50,228.97L378.12,229.11L378.75,228.93L379.38,229.09L380.00,229.23L380.64,229.26L381.31,229.70L381.98,229.24L382.65,229.22L383.30,229.75L383.92,229.46L384.49,229.78L385.00,229.70L385.86,229.84L386.55,229.51L387.12,229.56L387.60,230.48L387.80,230.78L387.96,231.55L388.09,232.47L388.20,233.40L388.30,233.91L388.39,234.68L388.49,235.58L388.60,235.52L388.74,235.27L388.88,235.17L389.02,234.37L389.16,234.01L389.31,232.65L389.45,232.24L389.60,231.05L389.66,230.43L389.73,230.34L389.79,229.34L389.85,228.78L389.91,228.08L389.97,227.82L390.04,227.34L390.10,226.66L390.16,225.82L390.23,225.43L390.30,224.26L390.37,223.70L390.45,223.24L390.53,222.76L390.61,221.81L390.70,221.13L390.77,220.64L390.84,219.79L390.91,219.59L390.99,218.84L391.07,217.95L391.14,217.35L391.22,217.01L391.30,216.04L391.39,215.28L391.47,215.11L391.56,214.22L391.64,213.56L391.73,213.02L391.82,212.53L391.91,211.36L392.01,210.87L392.10,210.05L392.20,209.69L392.30,209.15L392.40,208.81L392.50,208.12L392.63,207.36L392.77,206.55L392.91,205.98L393.05,205.08L393.20,204.80L393.35,204.09L393.50,203.46L393.66,202.32L393.82,202.05L393.97,201.48L394.13,200.70L394.28,200.40L394.43,199.84L394.58,199.20L394.72,198.74L394.86,198.15L395.00,197.87L395.31,196.41L395.60,196.06L395.88,195.46L396.15,194.89L396.42,194.21L396.70,193.64L397.00,193.57L397.44,193.09L397.90,192.12L398.37,191.57L398.84,191.17L399.30,190.82L400.04,191.14L400.78,191.59L401.50,191.81L402.00,191.75L402.47,192.28L402.99,192.22L403.60,193.24L404.00,193.21L404.42,193.34L404.87,194.17L405.35,194.25L405.86,194.81L406.41,195.15L407.00,195.96L407.41,196.41L407.84,196.98L408.30,196.86L408.78,197.85L409.26,197.79L409.76,198.33L410.26,199.08L410.76,199.34L411.25,199.79L411.74,200.41L412.20,200.60L412.65,201.43L413.08,201.44L413.51,202.29L413.93,202.68L414.35,202.90L414.77,202.95L415.19,203.89L415.62,203.80L416.07,204.57L416.52,204.97L417.00,205.19L417.39,205.99L417.80,206.48L418.22,206.82L418.66,207.15L419.10,207.70L419.55,208.23L419.99,208.45L420.44,209.36L420.88,209.91L421.31,210.22L421.73,210.75L422.14,210.70L422.53,211.52L422.90,211.20L423.50,211.97L424.04,212.13L424.55,212.69L425.04,213.14L425.51,213.41L425.99,213.47L426.48,213.63L427.00,213.78L427.55,214.19L428.12,214.35L428.70,214.53L429.29,215.13L429.87,215.19L430.44,215.34L430.98,215.38L431.50,215.94L432.14,215.86L432.74,216.17L433.31,216.62L433.87,216.97L434.43,217.40L435.00,217.47L435.61,217.83L436.25,218.00L436.89,218.05L437.50,218.25L438.04,218.02L438.50,218.39L438.99,218.69L439.31,219.73L439.55,220.24L439.80,221.09L439.91,221.38L440.01,222.14L440.10,222.82L440.19,224.02L440.28,225.15L440.36,225.50L440.44,226.06L440.53,226.74L440.61,227.26L440.70,227.78L440.79,227.62L440.87,227.12L440.95,226.45L441.03,225.91L441.11,225.27L441.20,224.94L441.29,223.87L441.38,223.31L441.49,222.29L441.60,221.21L441.66,220.50L441.71,220.23L441.77,219.20L441.83,218.61L441.89,218.32L441.95,217.66L442.02,216.80L442.08,216.17L442.15,215.33L442.22,215.27L442.29,214.44L442.36,213.91L442.43,213.25L442.50,212.18L442.57,211.71L442.65,210.80L442.72,210.44L442.79,209.83L442.87,208.72L442.95,208.05L443.02,207.63L443.10,207.36L443.21,206.48L443.32,205.53L443.43,205.45L443.54,204.78L443.66,203.95L443.77,203.07L443.88,203.10L444.00,202.30L444.13,201.43L444.26,201.08L444.39,200.76L444.53,200.41L444.68,199.59L444.83,199.15L445.00,198.29L445.19,197.72L445.39,197.57L445.60,196.60L445.83,195.80L446.06,195.54L446.29,194.61L446.53,194.07L446.77,193.66L447.02,193.18L447.26,192.64L447.50,192.14L447.74,191.40L447.97,190.61L448.20,190.56L448.48,189.44L448.76,189.09L449.03,188.40L449.30,187.97L449.57,187.39L449.84,186.47L450.11,186.21L450.38,185.72L450.65,185.09L450.92,184.43L451.20,184.59L451.81,183.73L452.43,182.93L453.05,182.79L453.67,183.15L454.30,182.51L454.94,182.58L455.59,182.92L456.24,183.08L456.88,183.12L457.50,183.37L458.10,183.03L458.68,183.22L459.25,184.02L459.82,184.15L460.40,183.98L460.83,184.31L461.28,184.83L461.73,185.74L462.17,185.70L462.61,186.50L463.02,187.19L463.40,187.50L463.75,188.22L464.07,188.31L464.37,188.80L464.65,189.29L464.93,190.41L465.21,190.58L465.50,191.83L465.75,192.23L465.98,192.47L466.21,193.52L466.44,193.70L466.68,194.59L466.93,194.95L467.20,196.06L467.50,196.77L467.78,197.37L468.06,197.34L468.35,198.55L468.65,198.97L468.97,199.77L469.31,200.13L469.67,200.76L470.07,201.24L470.50,201.81L470.98,201.67L471.51,201.96L472.09,202.57L472.68,202.61L473.29,202.88L473.90,202.78L474.50,203.45L475.07,203.11L475.60,203.83L476.33,204.01L477.01,203.86L477.66,203.70L478.30,204.18L478.94,204.06L479.60,204.55L480.05,204.65L480.51,205.63L480.98,205.76L481.44,206.09L481.91,206.40L482.37,207.36L482.82,207.95L483.27,208.46L483.70,208.42L484.14,209.11L484.60,209.60L485.07,210.49L485.53,210.63L485.97,211.50L486.39,212.28L486.75,212.60L487.06,212.46L487.30,213.10" fill="none" stroke="#0a0a0a" stroke-width="2.2" stroke-linejoin="round"/><path d="M337.80,240.00L337.89,239.64L338.00,239.19L338.13,238.67L338.27,238.08L338.43,237.44L338.60,236.76L338.77,236.05L338.95,235.33L339.14,234.60L339.32,233.89L339.50,233.20L339.65,232.62L339.81,232.01L339.97,231.38L340.14,230.74L340.31,230.08L340.48,229.43L340.65,228.77L340.82,228.13L341.00,227.49L341.18,226.88L341.35,226.29L341.53,225.73L341.70,225.20L341.95,224.49L342.19,223.81L342.44,223.17L342.68,222.57L342.93,221.99L343.19,221.45L343.45,220.94L343.72,220.46L344.00,220.00L344.45,219.34L344.92,218.72L345.41,218.17L345.91,217.71L346.41,217.38L346.90,217.20L347.47,217.22L348.04,217.45L348.60,217.84L349.19,218.34L349.80,218.90L350.19,219.29L350.59,219.74L350.99,220.23L351.39,220.76L351.82,221.30L352.25,221.85L352.71,222.38L353.20,222.90L353.61,223.31L354.04,223.73L354.49,224.15L354.95,224.58L355.43,225.01L355.90,225.42L356.38,225.82L356.86,226.21L357.33,226.57L357.80,226.90L358.37,227.28L358.94,227.62L359.50,227.93L360.07,228.21L360.64,228.48L361.21,228.73L361.80,228.97L362.40,229.20L363.02,229.42L363.65,229.60L364.30,229.77L364.95,229.93L365.60,230.09L366.25,230.24L366.88,230.41L367.50,230.60L368.08,230.81L368.64,231.03L369.17,231.25L369.70,231.49L370.24,231.72L370.81,231.95L371.43,232.18L372.10,232.40L372.64,232.56L373.22,232.72L373.84,232.89L374.49,233.05L375.14,233.21L375.81,233.37L376.46,233.52L377.10,233.66L377.71,233.79L378.28,233.90L378.80,234.00L379.54,234.11L380.20,234.19L380.81,234.24L381.38,234.27L381.92,234.28L382.46,234.29L383.00,234.30L383.78,234.28L384.56,234.22L385.29,234.16L385.95,234.14L386.50,234.20L387.14,234.58L387.54,235.11L387.80,235.50" fill="none" stroke="#f39c8e" stroke-width="7.8" stroke-linejoin="round" stroke-linecap="butt"/><path d="M390.00,236.00L390.03,235.64L390.07,235.19L390.11,234.68L390.15,234.10L390.20,233.46L390.25,232.79L390.30,232.08L390.36,231.35L390.42,230.61L390.49,229.87L390.56,229.14L390.64,228.42L390.72,227.74L390.81,227.09L390.90,226.50L391.02,225.80L391.16,225.13L391.30,224.48L391.45,223.85L391.61,223.23L391.77,222.62L391.94,222.02L392.11,221.43L392.28,220.83L392.45,220.23L392.63,219.62L392.80,219.00L392.96,218.42L393.12,217.82L393.29,217.22L393.46,216.61L393.63,216.00L393.81,215.40L393.98,214.79L394.15,214.20L394.33,213.62L394.50,213.06L394.67,212.52L394.84,211.99L395.00,211.50L395.26,210.75L395.51,210.04L395.75,209.38L395.99,208.76L396.24,208.16L396.48,207.59L396.74,207.04L397.00,206.50L397.31,205.90L397.64,205.31L397.97,204.76L398.31,204.24L398.64,203.75L398.97,203.30L399.30,202.90L399.86,202.31L400.41,201.85L400.96,201.49L401.50,201.20L402.21,200.92L402.92,200.78L403.60,200.80L404.23,200.99L404.84,201.33L405.50,201.80L405.94,202.14L406.39,202.53L406.87,202.97L407.37,203.46L407.90,204.00L408.30,204.43L408.73,204.89L409.17,205.38L409.62,205.90L410.08,206.43L410.54,206.96L411.00,207.50L411.40,207.98L411.79,208.46L412.18,208.96L412.58,209.47L412.99,209.98L413.41,210.49L413.84,211.00L414.30,211.50L414.73,211.95L415.17,212.40L415.63,212.85L416.09,213.31L416.57,213.76L417.05,214.20L417.54,214.64L418.02,215.08L418.50,215.50L418.98,215.92L419.47,216.34L419.96,216.77L420.46,217.18L420.95,217.59L421.45,217.98L421.94,218.35L422.42,218.69L422.90,219.00L423.50,219.35L424.08,219.65L424.66,219.91L425.23,220.15L425.81,220.36L426.40,220.58L427.00,220.80L427.63,221.02L428.29,221.24L428.95,221.44L429.62,221.64L430.28,221.83L430.91,222.02L431.50,222.20L432.14,222.40L432.74,222.58L433.31,222.76L433.87,222.93L434.43,223.11L435.00,223.30L435.61,223.48L436.24,223.64L436.88,223.81L437.48,224.00L438.03,224.26L438.50,224.60L438.88,225.08L439.20,225.70L439.47,226.38L439.69,227.04L439.86,227.61L440.00,228.00" fill="none" stroke="#f39c8e" stroke-width="7.8" stroke-linejoin="round" stroke-linecap="butt"/><path d="M442.20,232.00L442.23,231.67L442.27,231.29L442.30,230.86L442.34,230.39L442.38,229.87L442.42,229.32L442.46,228.74L442.51,228.13L442.56,227.49L442.62,226.83L442.68,226.16L442.74,225.47L442.82,224.77L442.89,224.07L442.98,223.37L443.07,222.68L443.16,221.99L443.27,221.31L443.38,220.64L443.50,220.00L443.61,219.44L443.74,218.86L443.87,218.27L444.01,217.66L444.16,217.05L444.32,216.42L444.48,215.79L444.64,215.15L444.82,214.51L444.99,213.87L445.17,213.24L445.35,212.61L445.53,211.99L445.71,211.38L445.88,210.78L446.06,210.19L446.24,209.63L446.41,209.08L446.58,208.55L446.74,208.04L446.90,207.57L447.05,207.12L447.20,206.70L447.55,205.76L447.87,204.97L448.18,204.31L448.48,203.76L448.77,203.27L449.06,202.83L449.36,202.41L449.67,201.97L450.00,201.50L450.39,200.95L450.79,200.43L451.21,199.92L451.62,199.44L452.05,198.98L452.47,198.54L452.89,198.11L453.30,197.70L453.84,197.17L454.39,196.68L454.93,196.22L455.47,195.79L455.99,195.38L456.50,195.00L457.09,194.54L457.66,194.08L458.22,193.69L458.77,193.41L459.30,193.30L459.82,193.41L460.32,193.69L460.81,194.08L461.30,194.54L461.80,195.00L462.22,195.37L462.64,195.77L463.06,196.19L463.49,196.64L463.94,197.15L464.40,197.70L464.76,198.16L465.14,198.65L465.53,199.18L465.92,199.72L466.32,200.29L466.72,200.86L467.11,201.43L467.50,202.00L467.84,202.51L468.17,203.04L468.51,203.58L468.84,204.12L469.17,204.66L469.50,205.20L469.84,205.72L470.17,206.22L470.50,206.70L470.93,207.28L471.35,207.83L471.78,208.36L472.21,208.87L472.64,209.36L473.07,209.84L473.50,210.30L474.01,210.82L474.51,211.31L475.02,211.78L475.54,212.23L476.06,212.67L476.60,213.10L477.15,213.52L477.70,213.93L478.26,214.33L478.83,214.72L479.41,215.11L480.00,215.50L480.51,215.84L481.04,216.19L481.57,216.54L482.11,216.88L482.64,217.21L483.17,217.52L483.70,217.80L484.35,218.10L485.04,218.39L485.73,218.64L486.37,218.87L486.91,219.06L487.30,219.20" fill="none" stroke="#f39c8e" stroke-width="7.8" stroke-linejoin="round" stroke-linecap="butt"/><path d="M331.00,242.60L331.38,242.36L331.90,242.41L332.52,242.80L333.22,242.78L333.95,242.77L334.69,242.76L335.39,242.74L336.04,242.83L336.58,242.79L337.00,242.85L337.54,242.37L337.67,241.90L337.66,241.25L337.80,240.20L337.92,239.67L338.05,238.75L338.19,238.59L338.33,238.10L338.48,237.22L338.64,236.84L338.81,235.75L338.98,235.52L339.15,234.53L339.32,234.00L339.50,233.05L339.65,232.50L339.81,231.92L339.97,231.27L340.14,230.49L340.31,230.05L340.48,229.72L340.65,228.87L340.82,228.39L341.00,227.65L341.18,227.08L341.35,226.59L341.53,225.88L341.70,225.06L341.95,224.34L342.19,223.76L342.44,222.88L342.68,222.40L342.93,222.22L343.19,221.70L343.45,220.84L343.72,220.62L344.00,220.16L344.45,219.58L344.92,218.90L345.41,218.19L345.91,217.47L346.41,217.57L346.90,217.09L347.47,217.29L348.04,217.37L348.60,217.86L349.19,218.62L349.80,218.70L350.19,219.31L350.59,219.83L350.99,220.25L351.39,221.02L351.82,221.24L352.25,222.09L352.71,222.50L353.20,223.18L353.61,223.06L354.04,223.55L354.49,224.03L354.95,224.83L355.43,224.71L355.90,225.28L356.38,225.95L356.86,226.50L357.33,226.37L357.80,226.86L358.37,227.39L358.94,227.73L359.50,228.07L360.07,228.36L360.64,228.33L361.21,228.58L361.80,228.68L362.40,229.31L363.02,229.24L363.65,229.46L364.30,230.05L364.95,230.02L365.60,230.14L366.25,230.34L366.88,230.47L367.50,230.72L368.08,230.69L368.64,230.76L369.17,230.99L369.70,231.20L370.24,231.64L370.81,231.74L371.43,231.95L372.10,232.40L372.64,232.84L373.22,232.83L373.84,232.75L374.49,233.21L375.14,233.02L375.81,233.13L376.46,233.40L377.10,233.61L377.71,233.90L378.28,233.87L378.80,234.14L379.54,233.87L380.20,234.45L380.81,234.15L381.38,234.47L381.92,234.00L382.46,234.49L383.00,234.14L383.78,234.50L384.56,234.40L385.29,234.26L385.95,234.00L386.50,233.91L387.10,234.15L387.46,234.87L387.80,235.29L387.91,236.04L388.03,236.59L388.14,237.33L388.25,237.82L388.36,238.59L388.47,239.36L388.58,240.63L388.69,240.92L388.80,241.60L388.90,241.90L389.00,241.83L389.11,241.66L389.21,241.36L389.32,241.44L389.42,240.45L389.52,240.28L389.62,239.17L389.71,238.58L389.81,237.41L389.90,236.97L390.00,235.85L390.06,235.38L390.12,234.91L390.17,234.06L390.22,233.51L390.27,233.20L390.32,232.23L390.37,231.61L390.42,231.16L390.47,230.16L390.53,229.46L390.59,228.81L390.66,228.26L390.73,227.61L390.81,227.17L390.90,226.48L391.02,226.03L391.16,224.86L391.30,224.58L391.45,224.05L391.61,223.07L391.77,222.34L391.94,221.99L392.11,221.20L392.28,220.80L392.45,220.35L392.63,219.37L392.80,218.77L392.96,218.40L393.12,217.63L393.29,217.06L393.46,216.57L393.63,215.77L393.81,215.14L393.98,214.71L394.15,214.18L394.33,213.89L394.50,213.09L394.67,212.26L394.84,211.83L395.00,211.65L395.26,210.78L395.51,210.26L395.75,209.66L395.99,208.97L396.24,207.93L396.48,207.86L396.74,207.06L397.00,206.34L397.31,205.70L397.64,205.53L397.97,204.59L398.31,203.99L398.64,203.61L398.97,203.56L399.30,202.88L399.86,202.45L400.41,201.59L400.96,201.46L401.50,201.09L402.21,200.74L402.92,200.88L403.60,200.72L404.23,200.76L404.84,201.62L405.50,201.79L405.94,201.95L406.39,202.24L406.87,203.06L407.37,203.47L407.90,203.71L408.30,204.41L408.73,205.03L409.17,205.41L409.62,205.74L410.08,206.43L410.54,207.03L411.00,207.59L411.40,207.76L411.79,208.65L412.18,209.23L412.58,209.61L412.99,210.19L413.41,210.41L413.84,211.24L414.30,211.31L414.73,211.78L415.17,212.46L415.63,213.09L416.09,213.05L416.57,213.59L417.05,213.93L417.54,214.61L418.02,214.86L418.50,215.31L418.98,216.07L419.47,216.39L419.96,217.03L420.46,217.12L420.95,217.70L421.45,217.69L421.94,218.62L422.42,218.53L422.90,218.99L423.50,219.36L424.08,219.92L424.66,219.91L425.23,220.44L425.81,220.44L426.40,220.41L427.00,221.00L427.63,220.84L428.29,221.54L428.95,221.42L429.62,221.48L430.28,222.11L430.91,221.91L431.50,222.14L432.14,222.30L432.74,222.68L433.31,222.47L433.87,222.85L434.43,222.91L435.00,223.50L435.61,223.18L436.24,223.71L436.88,223.66L437.48,223.98L438.03,224.30L438.50,224.73L438.87,224.73L439.16,225.12L439.40,225.43L439.60,226.47L439.80,226.73L440.00,227.78L440.07,228.45L440.13,229.01L440.20,229.79L440.26,229.96L440.32,230.77L440.38,231.48L440.43,232.51L440.49,233.22L440.55,233.98L440.60,235.05L440.66,235.68L440.71,236.53L440.77,237.27L440.82,237.49L440.88,238.45L440.93,238.61L440.99,238.78L441.04,239.58L441.10,239.26L441.19,239.27L441.28,239.28L441.37,238.94L441.46,238.85L441.55,238.17L441.64,237.17L441.73,236.42L441.82,235.75L441.91,234.82L442.01,233.82L442.10,232.85L442.20,231.77L442.26,231.35L442.31,231.08L442.36,230.51L442.41,230.09L442.45,229.59L442.50,229.05L442.54,228.00L442.59,227.33L442.64,227.22L442.69,226.40L442.74,225.55L442.80,225.22L442.86,224.33L442.93,223.68L443.00,223.12L443.08,222.57L443.17,222.02L443.27,221.02L443.38,220.78L443.50,220.07L443.61,219.42L443.74,218.97L443.87,218.45L444.01,217.37L444.16,217.03L444.32,216.53L444.48,215.91L444.64,215.24L444.82,214.32L444.99,214.15L445.17,213.41L445.35,212.45L445.53,211.95L445.71,211.65L445.88,210.60L446.06,210.14L446.24,209.90L446.41,209.32L446.58,208.39L446.74,208.19L446.90,207.48L447.05,207.22L447.20,206.86L447.55,205.54L447.87,204.81L448.18,204.14L448.48,203.62L448.77,202.99L449.06,202.61L449.36,202.35L449.67,201.92L450.00,201.25L450.39,201.00L450.79,200.69L451.21,199.97L451.62,199.36L452.05,199.11L452.47,198.50L452.89,197.92L453.30,197.69L453.84,196.89L454.39,196.79L454.93,196.02L455.47,195.71L455.99,195.66L456.50,195.16L457.09,194.74L457.66,194.17L458.22,193.77L458.77,193.53L459.30,193.58L459.82,193.22L460.32,193.85L460.81,193.97L461.30,194.40L461.80,195.19L462.22,195.43L462.64,195.98L463.06,196.41L463.49,196.70L463.94,196.96L464.40,197.41L464.76,198.18L465.14,198.79L465.53,199.04L465.92,199.47L466.32,199.99L466.72,200.66L467.11,201.55L467.50,201.70L467.84,202.35L468.17,202.90L468.51,203.70L468.84,204.41L469.17,204.38L469.50,204.97L469.84,205.98L470.17,206.51L470.50,206.49L470.93,207.18L471.35,207.85L471.78,208.25L472.21,208.82L472.64,209.35L473.07,209.69L473.50,210.03L474.01,210.57L474.51,211.10L475.02,211.53L475.54,212.30L476.06,212.78L476.60,212.96L477.15,213.70L477.70,214.07L478.26,214.24L478.83,214.72L479.41,214.92L480.00,215.76L480.51,215.88L481.04,215.92L481.57,216.33L482.11,217.00L482.64,217.14L483.17,217.65L483.70,217.64L484.35,218.28L485.04,218.57L485.73,218.40L486.37,218.92L486.91,218.87L487.30,219.20" fill="none" stroke="#b3241c" stroke-width="2.4" stroke-linejoin="round"/><text x="266.60" y="301.30" font-size="11.20" text-anchor="start" font-weight="bold" fill="#000" stroke="#000" stroke-width="0.18" >G</text><line x1="304.50" y1="306.10" x2="482.40" y2="306.10" stroke="#333" stroke-width="1.40" /><text x="380.00" y="301.20" font-size="8.50" text-anchor="start" font-weight="normal" fill="#222" stroke="#222" stroke-width="0.18" textLength="20.5" lengthAdjust="spacingAndGlyphs" font-style="italic" >Arpc2</text><text x="400.60" y="297.50" font-size="5.00" text-anchor="start" font-weight="normal" fill="#222" stroke="#222" stroke-width="0.18" textLength="6.6" lengthAdjust="spacingAndGlyphs" font-style="italic" >fl/fl</text><text x="332.80" y="317.30" font-size="8.50" text-anchor="start" font-weight="normal" fill="#222" stroke="#222" stroke-width="0.18" textLength="31.8" lengthAdjust="spacingAndGlyphs" >depleted</text><text x="419.90" y="317.30" font-size="8.50" text-anchor="start" font-weight="normal" fill="#222" stroke="#222" stroke-width="0.18" textLength="48.5" lengthAdjust="spacingAndGlyphs" >non-depleted</text><rect x="303.6" y="320.0" width="87.7" height="68.4" fill="#f4efe6"/><polygon points="303.6,330.0 312.0,330.0 322.0,328.0 334.0,326.0 342.0,322.5 348.0,320.5 387.3,320.0 387.8,388.4 303.6,388.4" fill="#e2d0ad" /><ellipse cx="312.0" cy="348.0" rx="8.0" ry="16.0" fill="#e6c6b0" opacity="0.70" filter="url(#b2)" transform="rotate(0.0 312.0 348.0)"/><ellipse cx="372.0" cy="328.0" rx="14.0" ry="6.0" fill="#eee4d2" opacity="0.80" filter="url(#b2)" transform="rotate(0.0 372.0 328.0)"/><ellipse cx="338.0" cy="352.0" rx="8.0" ry="10.0" fill="#ebe0cc" opacity="0.60" filter="url(#b2)" transform="rotate(0.0 338.0 352.0)"/><ellipse cx="372.0" cy="370.0" rx="10.0" ry="8.0" fill="#ebdfca" opacity="0.60" filter="url(#b2)" transform="rotate(0.0 372.0 370.0)"/><ellipse cx="372.0" cy="350.0" rx="12.0" ry="18.0" fill="#e4d6bc" opacity="0.60" filter="url(#b2)" transform="rotate(0.0 372.0 350.0)"/><ellipse cx="330.0" cy="378.0" rx="20.0" ry="8.0" fill="#d2c0a2" opacity="0.50" filter="url(#b2)" transform="rotate(0.0 330.0 378.0)"/><ellipse cx="385.0" cy="352.0" rx="3.0" ry="28.0" fill="#efe6d6" opacity="0.80" filter="url(#b1)" transform="rotate(0.0 385.0 352.0)"/><path d="M306,372 Q318,366 332,376 T356,382" fill="none" stroke="#c8a890" stroke-width="0.8" opacity="0.7"/><path d="M340,333 Q350,345 346,360" fill="none" stroke="#cdb59a" stroke-width="0.7" opacity="0.7"/><path d="M366,330 Q374,342 384,346" fill="none" stroke="#cdb59a" stroke-width="0.7" opacity="0.6"/><ellipse cx="306.8" cy="327.0" rx="2.6" ry="4.8" fill="#e2ad36" opacity="0.95" filter="url(#b1)" transform="rotate(-35.0 306.8 327.0)"/><ellipse cx="387.5" cy="323.0" rx="2.8" ry="3.0" fill="#e2ad36" opacity="0.95" filter="url(#b1)" transform="rotate(0.0 387.5 323.0)"/><ellipse cx="306.5" cy="361.5" rx="2.2" ry="2.2" fill="#e2ad36" opacity="0.95" filter="url(#b1)" transform="rotate(0.0 306.5 361.5)"/><ellipse cx="308.0" cy="386.2" rx="4.0" ry="2.0" fill="#e2ad36" opacity="0.95" filter="url(#b1)" transform="rotate(0.0 308.0 386.2)"/><ellipse cx="385.0" cy="383.8" rx="5.0" ry="3.6" fill="#e2ad36" opacity="0.95" filter="url(#b1)" transform="rotate(-30.0 385.0 383.8)"/><ellipse cx="323.8" cy="348.3" rx="7.4" ry="7.4" fill="#dca292" opacity="0.80" filter="url(#b1)" transform="rotate(0.0 323.8 348.3)"/><ellipse cx="323.8" cy="348.3" rx="5.6" ry="5.6" fill="#b8463e" opacity="1.00" filter="url(#b05)" transform="rotate(0.0 323.8 348.3)"/><ellipse cx="359.2" cy="336.4" rx="7.0" ry="7.0" fill="#dca292" opacity="0.80" filter="url(#b1)" transform="rotate(0.0 359.2 336.4)"/><ellipse cx="359.2" cy="336.4" rx="5.2" ry="5.2" fill="#c46656" opacity="1.00" filter="url(#b05)" transform="rotate(0.0 359.2 336.4)"/><ellipse cx="354.3" cy="365.4" rx="7.7" ry="7.7" fill="#dca292" opacity="0.80" filter="url(#b1)" transform="rotate(0.0 354.3 365.4)"/><ellipse cx="354.3" cy="365.4" rx="5.9" ry="5.9" fill="#c0433c" opacity="1.00" filter="url(#b05)" transform="rotate(0.0 354.3 365.4)"/><circle cx="323.8" cy="348.3" r="9.8" fill="none" stroke="#0d0d0d" stroke-width="1.9" stroke-dasharray="5.4 3.4" transform="rotate(-20 323.8 348.3)"/><circle cx="359.2" cy="336.4" r="9.8" fill="none" stroke="#0d0d0d" stroke-width="1.9" stroke-dasharray="5.4 3.4" transform="rotate(-20 359.2 336.4)"/><circle cx="354.3" cy="365.4" r="9.8" fill="none" stroke="#0d0d0d" stroke-width="1.9" stroke-dasharray="5.4 3.4" transform="rotate(-20 354.3 365.4)"/><rect x="398.0" y="319.7" width="88.3" height="68.7" fill="#f4efe6"/><polygon points="398.0,336.5 405.0,330.0 413.0,323.0 418.0,319.7 482.0,319.7 483.5,330.0 482.5,360.0 483.0,388.4 398.0,388.4" fill="#dbc6a2" /><ellipse cx="420.0" cy="362.0" rx="18.0" ry="14.0" fill="#d3c0a0" opacity="0.60" filter="url(#b2)" transform="rotate(0.0 420.0 362.0)"/><ellipse cx="440.0" cy="330.0" rx="12.0" ry="6.0" fill="#ece2d0" opacity="0.70" filter="url(#b2)" transform="rotate(0.0 440.0 330.0)"/><ellipse cx="440.0" cy="378.0" rx="14.0" ry="6.0" fill="#e8dcc6" opacity="0.60" filter="url(#b2)" transform="rotate(0.0 440.0 378.0)"/><ellipse cx="450.0" cy="350.0" rx="15.0" ry="20.0" fill="#ddd0b4" opacity="0.60" filter="url(#b2)" transform="rotate(0.0 450.0 350.0)"/><path d="M476,326 C480,340 475,352 480,364 C483,372 478,380 481,388" fill="none" stroke="#b09a78" stroke-width="4.5" opacity="0.7" filter="url(#b05)"/><path d="M477,328 C481,340 476,352 481,364 C484,372 479,380 482,388" fill="none" stroke="#6e5030" stroke-width="1.3" opacity="0.85"/><path d="M400,352 C403,362 401,372 405,386" fill="none" stroke="#b49a74" stroke-width="2.5" opacity="0.6" filter="url(#b05)"/><path d="M405,342 Q430,350 446,347 T470,330" fill="none" stroke="#c2a68a" stroke-width="0.8" opacity="0.7"/><path d="M412,372 Q432,364 450,378" fill="none" stroke="#c2a68a" stroke-width="0.8" opacity="0.6"/><ellipse cx="425.5" cy="322.0" rx="3.5" ry="2.4" fill="#e2ad36" opacity="0.95" filter="url(#b1)" transform="rotate(0.0 425.5 322.0)"/><ellipse cx="478.5" cy="322.5" rx="5.0" ry="2.6" fill="#e2ad36" opacity="0.95" filter="url(#b1)" transform="rotate(0.0 478.5 322.5)"/><ellipse cx="404.0" cy="386.2" rx="5.5" ry="2.2" fill="#e2ad36" opacity="0.95" filter="url(#b1)" transform="rotate(0.0 404.0 386.2)"/><ellipse cx="483.5" cy="385.0" rx="2.8" ry="3.8" fill="#e2ad36" opacity="0.95" filter="url(#b1)" transform="rotate(0.0 483.5 385.0)"/><ellipse cx="422.6" cy="338.5" rx="7.0" ry="7.0" fill="#dcb8a2" opacity="0.70" filter="url(#b1)" transform="rotate(0.0 422.6 338.5)"/><ellipse cx="458.2" cy="373.2" rx="7.0" ry="7.0" fill="#e0c4a8" opacity="0.70" filter="url(#b1)" transform="rotate(0.0 458.2 373.2)"/><ellipse cx="458.2" cy="335.9" rx="6.0" ry="6.0" fill="#e0cfb0" opacity="0.70" filter="url(#b1)" transform="rotate(0.0 458.2 335.9)"/><circle cx="422.6" cy="338.5" r="9.9" fill="none" stroke="#0d0d0d" stroke-width="1.9" stroke-dasharray="5.4 3.4" transform="rotate(-20 422.6 338.5)"/><circle cx="458.2" cy="335.9" r="9.9" fill="none" stroke="#0d0d0d" stroke-width="1.9" stroke-dasharray="5.4 3.4" transform="rotate(-20 458.2 335.9)"/><circle cx="458.2" cy="373.2" r="9.9" fill="none" stroke="#0d0d0d" stroke-width="1.9" stroke-dasharray="5.4 3.4" transform="rotate(-20 458.2 373.2)"/><rect x="0.75" y="0.8" width="518.5" height="417.45" fill="none" stroke="#000" stroke-width="1.6"/></svg></body></html>
